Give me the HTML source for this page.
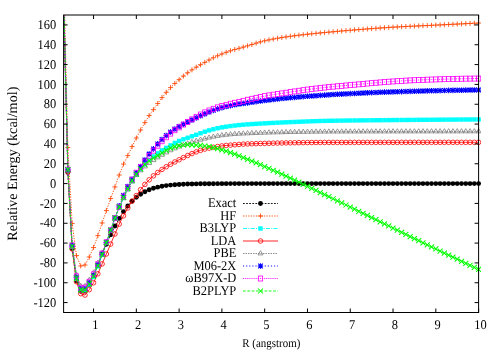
<!DOCTYPE html><html><head><meta charset="utf-8"><style>html,body{margin:0;padding:0;background:#fff}svg{display:block}svg text{text-rendering:geometricPrecision}#tx{opacity:0.999}text{font-family:"Liberation Serif",serif;fill:#000}</style></head><body>
<svg width="500" height="350" viewBox="0 0 500 350">
<rect width="500" height="350" fill="#fff"/>
<defs><clipPath id="c"><rect x="63.1" y="14.5" width="418.0" height="298.5"/></clipPath><clipPath id="cl"><rect x="63.6" y="15.0" width="415.0" height="297.5"/></clipPath></defs>
<polyline clip-path="url(#cl)" points="63.60,-1.87 67.88,172.39 72.16,248.46 76.44,280.69 80.71,291.29 84.99,290.95 89.27,284.65 93.55,275.49 97.83,265.17 102.11,254.57 106.38,244.31 110.66,234.74 114.94,226.05 119.22,218.36 123.50,211.67 127.78,205.99 132.05,201.25 136.33,197.37 140.61,194.24 144.89,191.75 149.17,189.81 153.45,188.30 157.72,187.15 162.00,186.26 166.28,185.62 170.56,185.11 174.84,184.72 179.12,184.44 183.39,184.22 187.67,184.07 191.95,183.97 196.23,183.88 200.51,183.80 204.79,183.75 209.06,183.71 213.34,183.68 217.62,183.66 221.90,183.64 226.18,183.63 230.46,183.62 234.73,183.61 239.01,183.61 243.29,183.61 247.57,183.60 251.85,183.60 256.13,183.60 260.40,183.59 264.68,183.59 268.96,183.59 273.24,183.59 277.52,183.59 281.80,183.59 286.07,183.59 290.35,183.59 294.63,183.59 298.91,183.59 303.19,183.59 307.47,183.59 311.74,183.59 316.02,183.59 320.30,183.59 324.58,183.59 328.86,183.59 333.14,183.59 337.41,183.59 341.69,183.59 345.97,183.59 350.25,183.59 354.53,183.59 358.81,183.59 363.08,183.59 367.36,183.59 371.64,183.58 375.92,183.58 380.20,183.58 384.48,183.58 388.75,183.58 393.03,183.58 397.31,183.58 401.59,183.58 405.87,183.58 410.15,183.58 414.42,183.58 418.70,183.58 422.98,183.58 427.26,183.58 431.54,183.58 435.82,183.58 440.09,183.58 444.37,183.58 448.65,183.58 452.93,183.58 457.21,183.58 461.49,183.58 465.76,183.58 470.04,183.58 474.32,183.58 478.60,183.58" fill="none" stroke="#000000" stroke-width="0.9" stroke-dasharray="1.8,1.3"/>
<g clip-path="url(#c)"><circle cx="67.88" cy="172.39" r="2.45" fill="#000000"/><circle cx="72.16" cy="248.46" r="2.45" fill="#000000"/><circle cx="76.44" cy="280.69" r="2.45" fill="#000000"/><circle cx="80.71" cy="291.29" r="2.45" fill="#000000"/><circle cx="84.99" cy="290.95" r="2.45" fill="#000000"/><circle cx="89.27" cy="284.65" r="2.45" fill="#000000"/><circle cx="93.55" cy="275.49" r="2.45" fill="#000000"/><circle cx="97.83" cy="265.17" r="2.45" fill="#000000"/><circle cx="102.11" cy="254.57" r="2.45" fill="#000000"/><circle cx="106.38" cy="244.31" r="2.45" fill="#000000"/><circle cx="110.66" cy="234.74" r="2.45" fill="#000000"/><circle cx="114.94" cy="226.05" r="2.45" fill="#000000"/><circle cx="119.22" cy="218.36" r="2.45" fill="#000000"/><circle cx="123.50" cy="211.67" r="2.45" fill="#000000"/><circle cx="127.78" cy="205.99" r="2.45" fill="#000000"/><circle cx="132.05" cy="201.25" r="2.45" fill="#000000"/><circle cx="136.33" cy="197.37" r="2.45" fill="#000000"/><circle cx="140.61" cy="194.24" r="2.45" fill="#000000"/><circle cx="144.89" cy="191.75" r="2.45" fill="#000000"/><circle cx="149.17" cy="189.81" r="2.45" fill="#000000"/><circle cx="153.45" cy="188.30" r="2.45" fill="#000000"/><circle cx="157.72" cy="187.15" r="2.45" fill="#000000"/><circle cx="162.00" cy="186.26" r="2.45" fill="#000000"/><circle cx="166.28" cy="185.62" r="2.45" fill="#000000"/><circle cx="170.56" cy="185.11" r="2.45" fill="#000000"/><circle cx="174.84" cy="184.72" r="2.45" fill="#000000"/><circle cx="179.12" cy="184.44" r="2.45" fill="#000000"/><circle cx="183.39" cy="184.22" r="2.45" fill="#000000"/><circle cx="187.67" cy="184.07" r="2.45" fill="#000000"/><circle cx="191.95" cy="183.97" r="2.45" fill="#000000"/><circle cx="196.23" cy="183.88" r="2.45" fill="#000000"/><circle cx="200.51" cy="183.80" r="2.45" fill="#000000"/><circle cx="204.79" cy="183.75" r="2.45" fill="#000000"/><circle cx="209.06" cy="183.71" r="2.45" fill="#000000"/><circle cx="213.34" cy="183.68" r="2.45" fill="#000000"/><circle cx="217.62" cy="183.66" r="2.45" fill="#000000"/><circle cx="221.90" cy="183.64" r="2.45" fill="#000000"/><circle cx="226.18" cy="183.63" r="2.45" fill="#000000"/><circle cx="230.46" cy="183.62" r="2.45" fill="#000000"/><circle cx="234.73" cy="183.61" r="2.45" fill="#000000"/><circle cx="239.01" cy="183.61" r="2.45" fill="#000000"/><circle cx="243.29" cy="183.61" r="2.45" fill="#000000"/><circle cx="247.57" cy="183.60" r="2.45" fill="#000000"/><circle cx="251.85" cy="183.60" r="2.45" fill="#000000"/><circle cx="256.13" cy="183.60" r="2.45" fill="#000000"/><circle cx="260.40" cy="183.59" r="2.45" fill="#000000"/><circle cx="264.68" cy="183.59" r="2.45" fill="#000000"/><circle cx="268.96" cy="183.59" r="2.45" fill="#000000"/><circle cx="273.24" cy="183.59" r="2.45" fill="#000000"/><circle cx="277.52" cy="183.59" r="2.45" fill="#000000"/><circle cx="281.80" cy="183.59" r="2.45" fill="#000000"/><circle cx="286.07" cy="183.59" r="2.45" fill="#000000"/><circle cx="290.35" cy="183.59" r="2.45" fill="#000000"/><circle cx="294.63" cy="183.59" r="2.45" fill="#000000"/><circle cx="298.91" cy="183.59" r="2.45" fill="#000000"/><circle cx="303.19" cy="183.59" r="2.45" fill="#000000"/><circle cx="307.47" cy="183.59" r="2.45" fill="#000000"/><circle cx="311.74" cy="183.59" r="2.45" fill="#000000"/><circle cx="316.02" cy="183.59" r="2.45" fill="#000000"/><circle cx="320.30" cy="183.59" r="2.45" fill="#000000"/><circle cx="324.58" cy="183.59" r="2.45" fill="#000000"/><circle cx="328.86" cy="183.59" r="2.45" fill="#000000"/><circle cx="333.14" cy="183.59" r="2.45" fill="#000000"/><circle cx="337.41" cy="183.59" r="2.45" fill="#000000"/><circle cx="341.69" cy="183.59" r="2.45" fill="#000000"/><circle cx="345.97" cy="183.59" r="2.45" fill="#000000"/><circle cx="350.25" cy="183.59" r="2.45" fill="#000000"/><circle cx="354.53" cy="183.59" r="2.45" fill="#000000"/><circle cx="358.81" cy="183.59" r="2.45" fill="#000000"/><circle cx="363.08" cy="183.59" r="2.45" fill="#000000"/><circle cx="367.36" cy="183.59" r="2.45" fill="#000000"/><circle cx="371.64" cy="183.58" r="2.45" fill="#000000"/><circle cx="375.92" cy="183.58" r="2.45" fill="#000000"/><circle cx="380.20" cy="183.58" r="2.45" fill="#000000"/><circle cx="384.48" cy="183.58" r="2.45" fill="#000000"/><circle cx="388.75" cy="183.58" r="2.45" fill="#000000"/><circle cx="393.03" cy="183.58" r="2.45" fill="#000000"/><circle cx="397.31" cy="183.58" r="2.45" fill="#000000"/><circle cx="401.59" cy="183.58" r="2.45" fill="#000000"/><circle cx="405.87" cy="183.58" r="2.45" fill="#000000"/><circle cx="410.15" cy="183.58" r="2.45" fill="#000000"/><circle cx="414.42" cy="183.58" r="2.45" fill="#000000"/><circle cx="418.70" cy="183.58" r="2.45" fill="#000000"/><circle cx="422.98" cy="183.58" r="2.45" fill="#000000"/><circle cx="427.26" cy="183.58" r="2.45" fill="#000000"/><circle cx="431.54" cy="183.58" r="2.45" fill="#000000"/><circle cx="435.82" cy="183.58" r="2.45" fill="#000000"/><circle cx="440.09" cy="183.58" r="2.45" fill="#000000"/><circle cx="444.37" cy="183.58" r="2.45" fill="#000000"/><circle cx="448.65" cy="183.58" r="2.45" fill="#000000"/><circle cx="452.93" cy="183.58" r="2.45" fill="#000000"/><circle cx="457.21" cy="183.58" r="2.45" fill="#000000"/><circle cx="461.49" cy="183.58" r="2.45" fill="#000000"/><circle cx="465.76" cy="183.58" r="2.45" fill="#000000"/><circle cx="470.04" cy="183.58" r="2.45" fill="#000000"/><circle cx="474.32" cy="183.58" r="2.45" fill="#000000"/><circle cx="478.60" cy="183.58" r="2.45" fill="#000000"/></g>
<path d="M243 203.5H278" stroke="#000000" stroke-width="0.9" fill="none" stroke-dasharray="1.8,1.3"/>
<circle cx="260.50" cy="203.50" r="2.45" fill="#000000"/>
<polyline clip-path="url(#cl)" points="63.60,-29.62 67.88,147.59 72.16,223.55 76.44,255.58 80.71,265.99 84.99,265.00 89.27,256.97 93.55,247.55 97.83,235.65 102.11,222.95 106.38,210.56 110.66,198.56 114.94,186.96 119.22,175.06 123.50,164.05 127.78,155.62 132.05,146.59 136.33,137.97 140.61,130.03 144.89,122.60 149.17,115.56 153.45,109.61 157.72,103.48 162.00,97.61 166.28,92.34 170.56,87.59 174.84,83.44 179.12,79.66 183.39,76.09 187.67,72.81 191.95,69.86 196.23,67.16 200.51,64.72 204.79,62.40 209.06,60.00 213.34,57.74 217.62,55.77 221.90,53.97 226.18,52.30 230.46,50.80 234.73,49.52 239.01,48.32 243.29,47.08 247.57,45.84 251.85,44.53 256.13,43.17 260.40,41.88 264.68,40.78 268.96,39.86 273.24,39.03 277.52,38.27 281.80,37.57 286.07,36.92 290.35,36.31 294.63,35.74 298.91,35.21 303.19,34.72 307.47,34.24 311.74,33.79 316.02,33.36 320.30,32.95 324.58,32.55 328.86,32.16 333.14,31.76 337.41,31.37 341.69,30.99 345.97,30.62 350.25,30.27 354.53,29.93 358.81,29.59 363.08,29.26 367.36,28.93 371.64,28.62 375.92,28.31 380.20,28.01 384.48,27.73 388.75,27.45 393.03,27.20 397.31,26.96 401.59,26.73 405.87,26.51 410.15,26.31 414.42,26.11 418.70,25.91 422.98,25.71 427.26,25.52 431.54,25.32 435.82,25.11 440.09,24.91 444.37,24.70 448.65,24.49 452.93,24.28 457.21,24.07 461.49,23.87 465.76,23.66 470.04,23.45 474.32,23.24 478.60,23.03" fill="none" stroke="#ff4500" stroke-width="0.9" stroke-dasharray="1.3,1.3"/>
<g clip-path="url(#c)"><path d="M65.38 147.59h5M67.88 145.09v5" stroke="#ff4500" stroke-width="0.85" fill="none"/><path d="M69.66 223.55h5M72.16 221.05v5" stroke="#ff4500" stroke-width="0.85" fill="none"/><path d="M73.94 255.58h5M76.44 253.08v5" stroke="#ff4500" stroke-width="0.85" fill="none"/><path d="M78.21 265.99h5M80.71 263.49v5" stroke="#ff4500" stroke-width="0.85" fill="none"/><path d="M82.49 265.00h5M84.99 262.50v5" stroke="#ff4500" stroke-width="0.85" fill="none"/><path d="M86.77 256.97h5M89.27 254.47v5" stroke="#ff4500" stroke-width="0.85" fill="none"/><path d="M91.05 247.55h5M93.55 245.05v5" stroke="#ff4500" stroke-width="0.85" fill="none"/><path d="M95.33 235.65h5M97.83 233.15v5" stroke="#ff4500" stroke-width="0.85" fill="none"/><path d="M99.61 222.95h5M102.11 220.45v5" stroke="#ff4500" stroke-width="0.85" fill="none"/><path d="M103.88 210.56h5M106.38 208.06v5" stroke="#ff4500" stroke-width="0.85" fill="none"/><path d="M108.16 198.56h5M110.66 196.06v5" stroke="#ff4500" stroke-width="0.85" fill="none"/><path d="M112.44 186.96h5M114.94 184.46v5" stroke="#ff4500" stroke-width="0.85" fill="none"/><path d="M116.72 175.06h5M119.22 172.56v5" stroke="#ff4500" stroke-width="0.85" fill="none"/><path d="M121.00 164.05h5M123.50 161.55v5" stroke="#ff4500" stroke-width="0.85" fill="none"/><path d="M125.28 155.62h5M127.78 153.12v5" stroke="#ff4500" stroke-width="0.85" fill="none"/><path d="M129.55 146.59h5M132.05 144.09v5" stroke="#ff4500" stroke-width="0.85" fill="none"/><path d="M133.83 137.97h5M136.33 135.47v5" stroke="#ff4500" stroke-width="0.85" fill="none"/><path d="M138.11 130.03h5M140.61 127.53v5" stroke="#ff4500" stroke-width="0.85" fill="none"/><path d="M142.39 122.60h5M144.89 120.10v5" stroke="#ff4500" stroke-width="0.85" fill="none"/><path d="M146.67 115.56h5M149.17 113.06v5" stroke="#ff4500" stroke-width="0.85" fill="none"/><path d="M150.95 109.61h5M153.45 107.11v5" stroke="#ff4500" stroke-width="0.85" fill="none"/><path d="M155.22 103.48h5M157.72 100.98v5" stroke="#ff4500" stroke-width="0.85" fill="none"/><path d="M159.50 97.61h5M162.00 95.11v5" stroke="#ff4500" stroke-width="0.85" fill="none"/><path d="M163.78 92.34h5M166.28 89.84v5" stroke="#ff4500" stroke-width="0.85" fill="none"/><path d="M168.06 87.59h5M170.56 85.09v5" stroke="#ff4500" stroke-width="0.85" fill="none"/><path d="M172.34 83.44h5M174.84 80.94v5" stroke="#ff4500" stroke-width="0.85" fill="none"/><path d="M176.62 79.66h5M179.12 77.16v5" stroke="#ff4500" stroke-width="0.85" fill="none"/><path d="M180.89 76.09h5M183.39 73.59v5" stroke="#ff4500" stroke-width="0.85" fill="none"/><path d="M185.17 72.81h5M187.67 70.31v5" stroke="#ff4500" stroke-width="0.85" fill="none"/><path d="M189.45 69.86h5M191.95 67.36v5" stroke="#ff4500" stroke-width="0.85" fill="none"/><path d="M193.73 67.16h5M196.23 64.66v5" stroke="#ff4500" stroke-width="0.85" fill="none"/><path d="M198.01 64.72h5M200.51 62.22v5" stroke="#ff4500" stroke-width="0.85" fill="none"/><path d="M202.29 62.40h5M204.79 59.90v5" stroke="#ff4500" stroke-width="0.85" fill="none"/><path d="M206.56 60.00h5M209.06 57.50v5" stroke="#ff4500" stroke-width="0.85" fill="none"/><path d="M210.84 57.74h5M213.34 55.24v5" stroke="#ff4500" stroke-width="0.85" fill="none"/><path d="M215.12 55.77h5M217.62 53.27v5" stroke="#ff4500" stroke-width="0.85" fill="none"/><path d="M219.40 53.97h5M221.90 51.47v5" stroke="#ff4500" stroke-width="0.85" fill="none"/><path d="M223.68 52.30h5M226.18 49.80v5" stroke="#ff4500" stroke-width="0.85" fill="none"/><path d="M227.96 50.80h5M230.46 48.30v5" stroke="#ff4500" stroke-width="0.85" fill="none"/><path d="M232.23 49.52h5M234.73 47.02v5" stroke="#ff4500" stroke-width="0.85" fill="none"/><path d="M236.51 48.32h5M239.01 45.82v5" stroke="#ff4500" stroke-width="0.85" fill="none"/><path d="M240.79 47.08h5M243.29 44.58v5" stroke="#ff4500" stroke-width="0.85" fill="none"/><path d="M245.07 45.84h5M247.57 43.34v5" stroke="#ff4500" stroke-width="0.85" fill="none"/><path d="M249.35 44.53h5M251.85 42.03v5" stroke="#ff4500" stroke-width="0.85" fill="none"/><path d="M253.63 43.17h5M256.13 40.67v5" stroke="#ff4500" stroke-width="0.85" fill="none"/><path d="M257.90 41.88h5M260.40 39.38v5" stroke="#ff4500" stroke-width="0.85" fill="none"/><path d="M262.18 40.78h5M264.68 38.28v5" stroke="#ff4500" stroke-width="0.85" fill="none"/><path d="M266.46 39.86h5M268.96 37.36v5" stroke="#ff4500" stroke-width="0.85" fill="none"/><path d="M270.74 39.03h5M273.24 36.53v5" stroke="#ff4500" stroke-width="0.85" fill="none"/><path d="M275.02 38.27h5M277.52 35.77v5" stroke="#ff4500" stroke-width="0.85" fill="none"/><path d="M279.30 37.57h5M281.80 35.07v5" stroke="#ff4500" stroke-width="0.85" fill="none"/><path d="M283.57 36.92h5M286.07 34.42v5" stroke="#ff4500" stroke-width="0.85" fill="none"/><path d="M287.85 36.31h5M290.35 33.81v5" stroke="#ff4500" stroke-width="0.85" fill="none"/><path d="M292.13 35.74h5M294.63 33.24v5" stroke="#ff4500" stroke-width="0.85" fill="none"/><path d="M296.41 35.21h5M298.91 32.71v5" stroke="#ff4500" stroke-width="0.85" fill="none"/><path d="M300.69 34.72h5M303.19 32.22v5" stroke="#ff4500" stroke-width="0.85" fill="none"/><path d="M304.97 34.24h5M307.47 31.74v5" stroke="#ff4500" stroke-width="0.85" fill="none"/><path d="M309.24 33.79h5M311.74 31.29v5" stroke="#ff4500" stroke-width="0.85" fill="none"/><path d="M313.52 33.36h5M316.02 30.86v5" stroke="#ff4500" stroke-width="0.85" fill="none"/><path d="M317.80 32.95h5M320.30 30.45v5" stroke="#ff4500" stroke-width="0.85" fill="none"/><path d="M322.08 32.55h5M324.58 30.05v5" stroke="#ff4500" stroke-width="0.85" fill="none"/><path d="M326.36 32.16h5M328.86 29.66v5" stroke="#ff4500" stroke-width="0.85" fill="none"/><path d="M330.64 31.76h5M333.14 29.26v5" stroke="#ff4500" stroke-width="0.85" fill="none"/><path d="M334.91 31.37h5M337.41 28.87v5" stroke="#ff4500" stroke-width="0.85" fill="none"/><path d="M339.19 30.99h5M341.69 28.49v5" stroke="#ff4500" stroke-width="0.85" fill="none"/><path d="M343.47 30.62h5M345.97 28.12v5" stroke="#ff4500" stroke-width="0.85" fill="none"/><path d="M347.75 30.27h5M350.25 27.77v5" stroke="#ff4500" stroke-width="0.85" fill="none"/><path d="M352.03 29.93h5M354.53 27.43v5" stroke="#ff4500" stroke-width="0.85" fill="none"/><path d="M356.31 29.59h5M358.81 27.09v5" stroke="#ff4500" stroke-width="0.85" fill="none"/><path d="M360.58 29.26h5M363.08 26.76v5" stroke="#ff4500" stroke-width="0.85" fill="none"/><path d="M364.86 28.93h5M367.36 26.43v5" stroke="#ff4500" stroke-width="0.85" fill="none"/><path d="M369.14 28.62h5M371.64 26.12v5" stroke="#ff4500" stroke-width="0.85" fill="none"/><path d="M373.42 28.31h5M375.92 25.81v5" stroke="#ff4500" stroke-width="0.85" fill="none"/><path d="M377.70 28.01h5M380.20 25.51v5" stroke="#ff4500" stroke-width="0.85" fill="none"/><path d="M381.98 27.73h5M384.48 25.23v5" stroke="#ff4500" stroke-width="0.85" fill="none"/><path d="M386.25 27.45h5M388.75 24.95v5" stroke="#ff4500" stroke-width="0.85" fill="none"/><path d="M390.53 27.20h5M393.03 24.70v5" stroke="#ff4500" stroke-width="0.85" fill="none"/><path d="M394.81 26.96h5M397.31 24.46v5" stroke="#ff4500" stroke-width="0.85" fill="none"/><path d="M399.09 26.73h5M401.59 24.23v5" stroke="#ff4500" stroke-width="0.85" fill="none"/><path d="M403.37 26.51h5M405.87 24.01v5" stroke="#ff4500" stroke-width="0.85" fill="none"/><path d="M407.65 26.31h5M410.15 23.81v5" stroke="#ff4500" stroke-width="0.85" fill="none"/><path d="M411.92 26.11h5M414.42 23.61v5" stroke="#ff4500" stroke-width="0.85" fill="none"/><path d="M416.20 25.91h5M418.70 23.41v5" stroke="#ff4500" stroke-width="0.85" fill="none"/><path d="M420.48 25.71h5M422.98 23.21v5" stroke="#ff4500" stroke-width="0.85" fill="none"/><path d="M424.76 25.52h5M427.26 23.02v5" stroke="#ff4500" stroke-width="0.85" fill="none"/><path d="M429.04 25.32h5M431.54 22.82v5" stroke="#ff4500" stroke-width="0.85" fill="none"/><path d="M433.32 25.11h5M435.82 22.61v5" stroke="#ff4500" stroke-width="0.85" fill="none"/><path d="M437.59 24.91h5M440.09 22.41v5" stroke="#ff4500" stroke-width="0.85" fill="none"/><path d="M441.87 24.70h5M444.37 22.20v5" stroke="#ff4500" stroke-width="0.85" fill="none"/><path d="M446.15 24.49h5M448.65 21.99v5" stroke="#ff4500" stroke-width="0.85" fill="none"/><path d="M450.43 24.28h5M452.93 21.78v5" stroke="#ff4500" stroke-width="0.85" fill="none"/><path d="M454.71 24.07h5M457.21 21.57v5" stroke="#ff4500" stroke-width="0.85" fill="none"/><path d="M458.99 23.87h5M461.49 21.37v5" stroke="#ff4500" stroke-width="0.85" fill="none"/><path d="M463.26 23.66h5M465.76 21.16v5" stroke="#ff4500" stroke-width="0.85" fill="none"/><path d="M467.54 23.45h5M470.04 20.95v5" stroke="#ff4500" stroke-width="0.85" fill="none"/><path d="M471.82 23.24h5M474.32 20.74v5" stroke="#ff4500" stroke-width="0.85" fill="none"/><path d="M476.10 23.03h5M478.60 20.53v5" stroke="#ff4500" stroke-width="0.85" fill="none"/></g>
<path d="M243 216.0H278" stroke="#ff4500" stroke-width="0.9" fill="none" stroke-dasharray="1.3,1.3"/>
<path d="M258.00 216.00h5M260.50 213.50v5" stroke="#ff4500" stroke-width="0.85" fill="none"/>
<polyline clip-path="url(#cl)" points="63.60,-4.83 67.88,169.70 72.16,246.65 76.44,278.98 80.71,290.39 84.99,290.39 89.27,284.44 93.55,277.00 97.83,266.29 102.11,254.88 106.38,242.88 110.66,230.19 114.94,217.99 119.22,207.88 123.50,197.96 127.78,189.04 132.05,181.10 136.33,174.66 140.61,169.20 144.89,164.25 149.17,159.98 153.45,156.51 157.72,153.34 162.00,150.36 166.28,147.88 170.56,145.40 174.84,142.93 179.12,140.94 183.39,139.29 187.67,137.77 191.95,136.27 196.23,134.79 200.51,133.22 204.79,131.72 209.06,130.40 213.34,129.24 217.62,128.22 221.90,127.36 226.18,126.66 230.46,126.07 234.73,125.53 239.01,125.08 243.29,124.70 247.57,124.38 251.85,124.10 256.13,123.83 260.40,123.58 264.68,123.33 268.96,123.10 273.24,122.89 277.52,122.68 281.80,122.48 286.07,122.30 290.35,122.12 294.63,121.94 298.91,121.76 303.19,121.59 307.47,121.42 311.74,121.27 316.02,121.13 320.30,121.00 324.58,120.90 328.86,120.81 333.14,120.74 337.41,120.67 341.69,120.61 345.97,120.55 350.25,120.49 354.53,120.44 358.81,120.40 363.08,120.35 367.36,120.31 371.64,120.27 375.92,120.23 380.20,120.19 384.48,120.15 388.75,120.12 393.03,120.08 397.31,120.04 401.59,120.00 405.87,119.96 410.15,119.93 414.42,119.89 418.70,119.85 422.98,119.82 427.26,119.78 431.54,119.75 435.82,119.71 440.09,119.68 444.37,119.65 448.65,119.62 452.93,119.59 457.21,119.56 461.49,119.53 465.76,119.50 470.04,119.47 474.32,119.45 478.60,119.42" fill="none" stroke="#00ffff" stroke-width="0.9" stroke-dasharray="4.2,1.2,1,1.2"/>
<g clip-path="url(#c)"><rect x="65.68" y="167.50" width="4.4" height="4.4" fill="#00ffff"/><rect x="69.96" y="244.45" width="4.4" height="4.4" fill="#00ffff"/><rect x="74.24" y="276.78" width="4.4" height="4.4" fill="#00ffff"/><rect x="78.51" y="288.19" width="4.4" height="4.4" fill="#00ffff"/><rect x="82.79" y="288.19" width="4.4" height="4.4" fill="#00ffff"/><rect x="87.07" y="282.24" width="4.4" height="4.4" fill="#00ffff"/><rect x="91.35" y="274.80" width="4.4" height="4.4" fill="#00ffff"/><rect x="95.63" y="264.09" width="4.4" height="4.4" fill="#00ffff"/><rect x="99.91" y="252.68" width="4.4" height="4.4" fill="#00ffff"/><rect x="104.18" y="240.69" width="4.4" height="4.4" fill="#00ffff"/><rect x="108.46" y="227.99" width="4.4" height="4.4" fill="#00ffff"/><rect x="112.74" y="215.79" width="4.4" height="4.4" fill="#00ffff"/><rect x="117.02" y="205.68" width="4.4" height="4.4" fill="#00ffff"/><rect x="121.30" y="195.76" width="4.4" height="4.4" fill="#00ffff"/><rect x="125.58" y="186.84" width="4.4" height="4.4" fill="#00ffff"/><rect x="129.85" y="178.90" width="4.4" height="4.4" fill="#00ffff"/><rect x="134.13" y="172.46" width="4.4" height="4.4" fill="#00ffff"/><rect x="138.41" y="167.00" width="4.4" height="4.4" fill="#00ffff"/><rect x="142.69" y="162.05" width="4.4" height="4.4" fill="#00ffff"/><rect x="146.97" y="157.78" width="4.4" height="4.4" fill="#00ffff"/><rect x="151.25" y="154.31" width="4.4" height="4.4" fill="#00ffff"/><rect x="155.52" y="151.14" width="4.4" height="4.4" fill="#00ffff"/><rect x="159.80" y="148.16" width="4.4" height="4.4" fill="#00ffff"/><rect x="164.08" y="145.68" width="4.4" height="4.4" fill="#00ffff"/><rect x="168.36" y="143.20" width="4.4" height="4.4" fill="#00ffff"/><rect x="172.64" y="140.73" width="4.4" height="4.4" fill="#00ffff"/><rect x="176.92" y="138.74" width="4.4" height="4.4" fill="#00ffff"/><rect x="181.19" y="137.09" width="4.4" height="4.4" fill="#00ffff"/><rect x="185.47" y="135.57" width="4.4" height="4.4" fill="#00ffff"/><rect x="189.75" y="134.07" width="4.4" height="4.4" fill="#00ffff"/><rect x="194.03" y="132.59" width="4.4" height="4.4" fill="#00ffff"/><rect x="198.31" y="131.02" width="4.4" height="4.4" fill="#00ffff"/><rect x="202.59" y="129.52" width="4.4" height="4.4" fill="#00ffff"/><rect x="206.86" y="128.20" width="4.4" height="4.4" fill="#00ffff"/><rect x="211.14" y="127.04" width="4.4" height="4.4" fill="#00ffff"/><rect x="215.42" y="126.02" width="4.4" height="4.4" fill="#00ffff"/><rect x="219.70" y="125.16" width="4.4" height="4.4" fill="#00ffff"/><rect x="223.98" y="124.46" width="4.4" height="4.4" fill="#00ffff"/><rect x="228.26" y="123.87" width="4.4" height="4.4" fill="#00ffff"/><rect x="232.53" y="123.33" width="4.4" height="4.4" fill="#00ffff"/><rect x="236.81" y="122.88" width="4.4" height="4.4" fill="#00ffff"/><rect x="241.09" y="122.50" width="4.4" height="4.4" fill="#00ffff"/><rect x="245.37" y="122.18" width="4.4" height="4.4" fill="#00ffff"/><rect x="249.65" y="121.90" width="4.4" height="4.4" fill="#00ffff"/><rect x="253.93" y="121.63" width="4.4" height="4.4" fill="#00ffff"/><rect x="258.20" y="121.38" width="4.4" height="4.4" fill="#00ffff"/><rect x="262.48" y="121.13" width="4.4" height="4.4" fill="#00ffff"/><rect x="266.76" y="120.90" width="4.4" height="4.4" fill="#00ffff"/><rect x="271.04" y="120.69" width="4.4" height="4.4" fill="#00ffff"/><rect x="275.32" y="120.48" width="4.4" height="4.4" fill="#00ffff"/><rect x="279.60" y="120.28" width="4.4" height="4.4" fill="#00ffff"/><rect x="283.87" y="120.10" width="4.4" height="4.4" fill="#00ffff"/><rect x="288.15" y="119.92" width="4.4" height="4.4" fill="#00ffff"/><rect x="292.43" y="119.74" width="4.4" height="4.4" fill="#00ffff"/><rect x="296.71" y="119.56" width="4.4" height="4.4" fill="#00ffff"/><rect x="300.99" y="119.39" width="4.4" height="4.4" fill="#00ffff"/><rect x="305.27" y="119.22" width="4.4" height="4.4" fill="#00ffff"/><rect x="309.54" y="119.07" width="4.4" height="4.4" fill="#00ffff"/><rect x="313.82" y="118.93" width="4.4" height="4.4" fill="#00ffff"/><rect x="318.10" y="118.80" width="4.4" height="4.4" fill="#00ffff"/><rect x="322.38" y="118.70" width="4.4" height="4.4" fill="#00ffff"/><rect x="326.66" y="118.61" width="4.4" height="4.4" fill="#00ffff"/><rect x="330.94" y="118.54" width="4.4" height="4.4" fill="#00ffff"/><rect x="335.21" y="118.47" width="4.4" height="4.4" fill="#00ffff"/><rect x="339.49" y="118.41" width="4.4" height="4.4" fill="#00ffff"/><rect x="343.77" y="118.35" width="4.4" height="4.4" fill="#00ffff"/><rect x="348.05" y="118.29" width="4.4" height="4.4" fill="#00ffff"/><rect x="352.33" y="118.24" width="4.4" height="4.4" fill="#00ffff"/><rect x="356.61" y="118.20" width="4.4" height="4.4" fill="#00ffff"/><rect x="360.88" y="118.15" width="4.4" height="4.4" fill="#00ffff"/><rect x="365.16" y="118.11" width="4.4" height="4.4" fill="#00ffff"/><rect x="369.44" y="118.07" width="4.4" height="4.4" fill="#00ffff"/><rect x="373.72" y="118.03" width="4.4" height="4.4" fill="#00ffff"/><rect x="378.00" y="117.99" width="4.4" height="4.4" fill="#00ffff"/><rect x="382.28" y="117.95" width="4.4" height="4.4" fill="#00ffff"/><rect x="386.55" y="117.92" width="4.4" height="4.4" fill="#00ffff"/><rect x="390.83" y="117.88" width="4.4" height="4.4" fill="#00ffff"/><rect x="395.11" y="117.84" width="4.4" height="4.4" fill="#00ffff"/><rect x="399.39" y="117.80" width="4.4" height="4.4" fill="#00ffff"/><rect x="403.67" y="117.76" width="4.4" height="4.4" fill="#00ffff"/><rect x="407.95" y="117.73" width="4.4" height="4.4" fill="#00ffff"/><rect x="412.22" y="117.69" width="4.4" height="4.4" fill="#00ffff"/><rect x="416.50" y="117.65" width="4.4" height="4.4" fill="#00ffff"/><rect x="420.78" y="117.62" width="4.4" height="4.4" fill="#00ffff"/><rect x="425.06" y="117.58" width="4.4" height="4.4" fill="#00ffff"/><rect x="429.34" y="117.55" width="4.4" height="4.4" fill="#00ffff"/><rect x="433.62" y="117.51" width="4.4" height="4.4" fill="#00ffff"/><rect x="437.89" y="117.48" width="4.4" height="4.4" fill="#00ffff"/><rect x="442.17" y="117.45" width="4.4" height="4.4" fill="#00ffff"/><rect x="446.45" y="117.42" width="4.4" height="4.4" fill="#00ffff"/><rect x="450.73" y="117.39" width="4.4" height="4.4" fill="#00ffff"/><rect x="455.01" y="117.36" width="4.4" height="4.4" fill="#00ffff"/><rect x="459.29" y="117.33" width="4.4" height="4.4" fill="#00ffff"/><rect x="463.56" y="117.30" width="4.4" height="4.4" fill="#00ffff"/><rect x="467.84" y="117.27" width="4.4" height="4.4" fill="#00ffff"/><rect x="472.12" y="117.25" width="4.4" height="4.4" fill="#00ffff"/><rect x="476.40" y="117.22" width="4.4" height="4.4" fill="#00ffff"/></g>
<path d="M243 228.5H278" stroke="#00ffff" stroke-width="0.9" fill="none" stroke-dasharray="4.2,1.2,1,1.2"/>
<rect x="258.30" y="226.30" width="4.4" height="4.4" fill="#00ffff"/>
<polyline clip-path="url(#cl)" points="63.60,0.12 67.88,171.68 72.16,249.03 76.44,281.76 80.71,293.66 84.99,295.05 89.27,289.69 93.55,282.75 97.83,273.82 102.11,263.91 106.38,253.99 110.66,244.07 114.94,233.96 119.22,224.04 123.50,215.81 127.78,207.98 132.05,201.04 136.33,195.58 140.61,189.63 144.89,184.38 149.17,179.81 153.45,175.85 157.72,172.48 162.00,169.40 166.28,166.72 170.56,164.25 174.84,161.97 179.12,159.78 183.39,157.60 187.67,155.52 191.95,153.59 196.23,151.85 200.51,150.34 204.79,149.07 209.06,148.10 213.34,147.29 217.62,146.53 221.90,145.90 226.18,145.47 230.46,145.11 234.73,144.74 239.01,144.41 243.29,144.13 247.57,143.92 251.85,143.78 256.13,143.65 260.40,143.53 264.68,143.41 268.96,143.29 273.24,143.18 277.52,143.08 281.80,142.99 286.07,142.90 290.35,142.82 294.63,142.74 298.91,142.68 303.19,142.62 307.47,142.57 311.74,142.52 316.02,142.49 320.30,142.46 324.58,142.44 328.86,142.43 333.14,142.42 337.41,142.42 341.69,142.41 345.97,142.41 350.25,142.40 354.53,142.40 358.81,142.39 363.08,142.39 367.36,142.38 371.64,142.38 375.92,142.37 380.20,142.37 384.48,142.37 388.75,142.36 393.03,142.36 397.31,142.36 401.59,142.35 405.87,142.35 410.15,142.35 414.42,142.35 418.70,142.34 422.98,142.34 427.26,142.34 431.54,142.34 435.82,142.34 440.09,142.34 444.37,142.33 448.65,142.33 452.93,142.33 457.21,142.33 461.49,142.33 465.76,142.33 470.04,142.33 474.32,142.33 478.60,142.33" fill="none" stroke="#ff0000" stroke-width="0.85"/>
<g clip-path="url(#c)"><circle cx="67.88" cy="171.68" r="2.3" fill="none" stroke="#ff0000" stroke-width="0.8"/><circle cx="72.16" cy="249.03" r="2.3" fill="none" stroke="#ff0000" stroke-width="0.8"/><circle cx="76.44" cy="281.76" r="2.3" fill="none" stroke="#ff0000" stroke-width="0.8"/><circle cx="80.71" cy="293.66" r="2.3" fill="none" stroke="#ff0000" stroke-width="0.8"/><circle cx="84.99" cy="295.05" r="2.3" fill="none" stroke="#ff0000" stroke-width="0.8"/><circle cx="89.27" cy="289.69" r="2.3" fill="none" stroke="#ff0000" stroke-width="0.8"/><circle cx="93.55" cy="282.75" r="2.3" fill="none" stroke="#ff0000" stroke-width="0.8"/><circle cx="97.83" cy="273.82" r="2.3" fill="none" stroke="#ff0000" stroke-width="0.8"/><circle cx="102.11" cy="263.91" r="2.3" fill="none" stroke="#ff0000" stroke-width="0.8"/><circle cx="106.38" cy="253.99" r="2.3" fill="none" stroke="#ff0000" stroke-width="0.8"/><circle cx="110.66" cy="244.07" r="2.3" fill="none" stroke="#ff0000" stroke-width="0.8"/><circle cx="114.94" cy="233.96" r="2.3" fill="none" stroke="#ff0000" stroke-width="0.8"/><circle cx="119.22" cy="224.04" r="2.3" fill="none" stroke="#ff0000" stroke-width="0.8"/><circle cx="123.50" cy="215.81" r="2.3" fill="none" stroke="#ff0000" stroke-width="0.8"/><circle cx="127.78" cy="207.98" r="2.3" fill="none" stroke="#ff0000" stroke-width="0.8"/><circle cx="132.05" cy="201.04" r="2.3" fill="none" stroke="#ff0000" stroke-width="0.8"/><circle cx="136.33" cy="195.58" r="2.3" fill="none" stroke="#ff0000" stroke-width="0.8"/><circle cx="140.61" cy="189.63" r="2.3" fill="none" stroke="#ff0000" stroke-width="0.8"/><circle cx="144.89" cy="184.38" r="2.3" fill="none" stroke="#ff0000" stroke-width="0.8"/><circle cx="149.17" cy="179.81" r="2.3" fill="none" stroke="#ff0000" stroke-width="0.8"/><circle cx="153.45" cy="175.85" r="2.3" fill="none" stroke="#ff0000" stroke-width="0.8"/><circle cx="157.72" cy="172.48" r="2.3" fill="none" stroke="#ff0000" stroke-width="0.8"/><circle cx="162.00" cy="169.40" r="2.3" fill="none" stroke="#ff0000" stroke-width="0.8"/><circle cx="166.28" cy="166.72" r="2.3" fill="none" stroke="#ff0000" stroke-width="0.8"/><circle cx="170.56" cy="164.25" r="2.3" fill="none" stroke="#ff0000" stroke-width="0.8"/><circle cx="174.84" cy="161.97" r="2.3" fill="none" stroke="#ff0000" stroke-width="0.8"/><circle cx="179.12" cy="159.78" r="2.3" fill="none" stroke="#ff0000" stroke-width="0.8"/><circle cx="183.39" cy="157.60" r="2.3" fill="none" stroke="#ff0000" stroke-width="0.8"/><circle cx="187.67" cy="155.52" r="2.3" fill="none" stroke="#ff0000" stroke-width="0.8"/><circle cx="191.95" cy="153.59" r="2.3" fill="none" stroke="#ff0000" stroke-width="0.8"/><circle cx="196.23" cy="151.85" r="2.3" fill="none" stroke="#ff0000" stroke-width="0.8"/><circle cx="200.51" cy="150.34" r="2.3" fill="none" stroke="#ff0000" stroke-width="0.8"/><circle cx="204.79" cy="149.07" r="2.3" fill="none" stroke="#ff0000" stroke-width="0.8"/><circle cx="209.06" cy="148.10" r="2.3" fill="none" stroke="#ff0000" stroke-width="0.8"/><circle cx="213.34" cy="147.29" r="2.3" fill="none" stroke="#ff0000" stroke-width="0.8"/><circle cx="217.62" cy="146.53" r="2.3" fill="none" stroke="#ff0000" stroke-width="0.8"/><circle cx="221.90" cy="145.90" r="2.3" fill="none" stroke="#ff0000" stroke-width="0.8"/><circle cx="226.18" cy="145.47" r="2.3" fill="none" stroke="#ff0000" stroke-width="0.8"/><circle cx="230.46" cy="145.11" r="2.3" fill="none" stroke="#ff0000" stroke-width="0.8"/><circle cx="234.73" cy="144.74" r="2.3" fill="none" stroke="#ff0000" stroke-width="0.8"/><circle cx="239.01" cy="144.41" r="2.3" fill="none" stroke="#ff0000" stroke-width="0.8"/><circle cx="243.29" cy="144.13" r="2.3" fill="none" stroke="#ff0000" stroke-width="0.8"/><circle cx="247.57" cy="143.92" r="2.3" fill="none" stroke="#ff0000" stroke-width="0.8"/><circle cx="251.85" cy="143.78" r="2.3" fill="none" stroke="#ff0000" stroke-width="0.8"/><circle cx="256.13" cy="143.65" r="2.3" fill="none" stroke="#ff0000" stroke-width="0.8"/><circle cx="260.40" cy="143.53" r="2.3" fill="none" stroke="#ff0000" stroke-width="0.8"/><circle cx="264.68" cy="143.41" r="2.3" fill="none" stroke="#ff0000" stroke-width="0.8"/><circle cx="268.96" cy="143.29" r="2.3" fill="none" stroke="#ff0000" stroke-width="0.8"/><circle cx="273.24" cy="143.18" r="2.3" fill="none" stroke="#ff0000" stroke-width="0.8"/><circle cx="277.52" cy="143.08" r="2.3" fill="none" stroke="#ff0000" stroke-width="0.8"/><circle cx="281.80" cy="142.99" r="2.3" fill="none" stroke="#ff0000" stroke-width="0.8"/><circle cx="286.07" cy="142.90" r="2.3" fill="none" stroke="#ff0000" stroke-width="0.8"/><circle cx="290.35" cy="142.82" r="2.3" fill="none" stroke="#ff0000" stroke-width="0.8"/><circle cx="294.63" cy="142.74" r="2.3" fill="none" stroke="#ff0000" stroke-width="0.8"/><circle cx="298.91" cy="142.68" r="2.3" fill="none" stroke="#ff0000" stroke-width="0.8"/><circle cx="303.19" cy="142.62" r="2.3" fill="none" stroke="#ff0000" stroke-width="0.8"/><circle cx="307.47" cy="142.57" r="2.3" fill="none" stroke="#ff0000" stroke-width="0.8"/><circle cx="311.74" cy="142.52" r="2.3" fill="none" stroke="#ff0000" stroke-width="0.8"/><circle cx="316.02" cy="142.49" r="2.3" fill="none" stroke="#ff0000" stroke-width="0.8"/><circle cx="320.30" cy="142.46" r="2.3" fill="none" stroke="#ff0000" stroke-width="0.8"/><circle cx="324.58" cy="142.44" r="2.3" fill="none" stroke="#ff0000" stroke-width="0.8"/><circle cx="328.86" cy="142.43" r="2.3" fill="none" stroke="#ff0000" stroke-width="0.8"/><circle cx="333.14" cy="142.42" r="2.3" fill="none" stroke="#ff0000" stroke-width="0.8"/><circle cx="337.41" cy="142.42" r="2.3" fill="none" stroke="#ff0000" stroke-width="0.8"/><circle cx="341.69" cy="142.41" r="2.3" fill="none" stroke="#ff0000" stroke-width="0.8"/><circle cx="345.97" cy="142.41" r="2.3" fill="none" stroke="#ff0000" stroke-width="0.8"/><circle cx="350.25" cy="142.40" r="2.3" fill="none" stroke="#ff0000" stroke-width="0.8"/><circle cx="354.53" cy="142.40" r="2.3" fill="none" stroke="#ff0000" stroke-width="0.8"/><circle cx="358.81" cy="142.39" r="2.3" fill="none" stroke="#ff0000" stroke-width="0.8"/><circle cx="363.08" cy="142.39" r="2.3" fill="none" stroke="#ff0000" stroke-width="0.8"/><circle cx="367.36" cy="142.38" r="2.3" fill="none" stroke="#ff0000" stroke-width="0.8"/><circle cx="371.64" cy="142.38" r="2.3" fill="none" stroke="#ff0000" stroke-width="0.8"/><circle cx="375.92" cy="142.37" r="2.3" fill="none" stroke="#ff0000" stroke-width="0.8"/><circle cx="380.20" cy="142.37" r="2.3" fill="none" stroke="#ff0000" stroke-width="0.8"/><circle cx="384.48" cy="142.37" r="2.3" fill="none" stroke="#ff0000" stroke-width="0.8"/><circle cx="388.75" cy="142.36" r="2.3" fill="none" stroke="#ff0000" stroke-width="0.8"/><circle cx="393.03" cy="142.36" r="2.3" fill="none" stroke="#ff0000" stroke-width="0.8"/><circle cx="397.31" cy="142.36" r="2.3" fill="none" stroke="#ff0000" stroke-width="0.8"/><circle cx="401.59" cy="142.35" r="2.3" fill="none" stroke="#ff0000" stroke-width="0.8"/><circle cx="405.87" cy="142.35" r="2.3" fill="none" stroke="#ff0000" stroke-width="0.8"/><circle cx="410.15" cy="142.35" r="2.3" fill="none" stroke="#ff0000" stroke-width="0.8"/><circle cx="414.42" cy="142.35" r="2.3" fill="none" stroke="#ff0000" stroke-width="0.8"/><circle cx="418.70" cy="142.34" r="2.3" fill="none" stroke="#ff0000" stroke-width="0.8"/><circle cx="422.98" cy="142.34" r="2.3" fill="none" stroke="#ff0000" stroke-width="0.8"/><circle cx="427.26" cy="142.34" r="2.3" fill="none" stroke="#ff0000" stroke-width="0.8"/><circle cx="431.54" cy="142.34" r="2.3" fill="none" stroke="#ff0000" stroke-width="0.8"/><circle cx="435.82" cy="142.34" r="2.3" fill="none" stroke="#ff0000" stroke-width="0.8"/><circle cx="440.09" cy="142.34" r="2.3" fill="none" stroke="#ff0000" stroke-width="0.8"/><circle cx="444.37" cy="142.33" r="2.3" fill="none" stroke="#ff0000" stroke-width="0.8"/><circle cx="448.65" cy="142.33" r="2.3" fill="none" stroke="#ff0000" stroke-width="0.8"/><circle cx="452.93" cy="142.33" r="2.3" fill="none" stroke="#ff0000" stroke-width="0.8"/><circle cx="457.21" cy="142.33" r="2.3" fill="none" stroke="#ff0000" stroke-width="0.8"/><circle cx="461.49" cy="142.33" r="2.3" fill="none" stroke="#ff0000" stroke-width="0.8"/><circle cx="465.76" cy="142.33" r="2.3" fill="none" stroke="#ff0000" stroke-width="0.8"/><circle cx="470.04" cy="142.33" r="2.3" fill="none" stroke="#ff0000" stroke-width="0.8"/><circle cx="474.32" cy="142.33" r="2.3" fill="none" stroke="#ff0000" stroke-width="0.8"/><circle cx="478.60" cy="142.33" r="2.3" fill="none" stroke="#ff0000" stroke-width="0.8"/></g>
<path d="M243 241.0H278" stroke="#ff0000" stroke-width="0.85" fill="none"/>
<circle cx="260.50" cy="241.00" r="2.3" fill="none" stroke="#ff0000" stroke-width="0.8"/>
<polyline clip-path="url(#cl)" points="63.60,-4.83 67.88,169.70 72.16,244.47 76.44,274.62 80.71,286.02 84.99,286.02 89.27,280.07 93.55,272.63 97.83,263.02 102.11,252.70 106.38,241.79 110.66,230.19 114.94,217.99 119.22,207.88 123.50,198.26 127.78,189.53 132.05,181.60 136.33,175.15 140.61,170.49 144.89,166.53 149.17,163.16 153.45,160.18 157.72,157.50 162.00,154.92 166.28,152.54 170.56,150.36 174.84,148.48 179.12,146.69 183.39,144.98 187.67,143.42 191.95,142.13 196.23,140.94 200.51,139.76 204.79,138.66 209.06,137.67 213.34,136.78 217.62,135.96 221.90,135.29 226.18,134.79 230.46,134.40 234.73,134.07 239.01,133.80 243.29,133.59 247.57,133.41 251.85,133.23 256.13,133.06 260.40,132.90 264.68,132.75 268.96,132.62 273.24,132.51 277.52,132.41 281.80,132.32 286.07,132.22 290.35,132.13 294.63,132.05 298.91,131.96 303.19,131.89 307.47,131.82 311.74,131.76 316.02,131.71 320.30,131.67 324.58,131.64 328.86,131.62 333.14,131.61 337.41,131.60 341.69,131.59 345.97,131.58 350.25,131.56 354.53,131.55 358.81,131.55 363.08,131.54 367.36,131.53 371.64,131.52 375.92,131.51 380.20,131.50 384.48,131.50 388.75,131.49 393.03,131.48 397.31,131.48 401.59,131.47 405.87,131.47 410.15,131.46 414.42,131.46 418.70,131.45 422.98,131.45 427.26,131.44 431.54,131.44 435.82,131.44 440.09,131.43 444.37,131.43 448.65,131.43 452.93,131.43 457.21,131.43 461.49,131.42 465.76,131.42 470.04,131.42 474.32,131.42 478.60,131.42" fill="none" stroke="#808080" stroke-width="0.9" stroke-dasharray="1.5,1"/>
<g clip-path="url(#c)"><path d="M67.88 166.90L70.38 171.10L65.38 171.10Z" stroke="#808080" stroke-width="0.8" fill="none"/><path d="M72.16 241.67L74.66 245.87L69.66 245.87Z" stroke="#808080" stroke-width="0.8" fill="none"/><path d="M76.44 271.82L78.94 276.02L73.94 276.02Z" stroke="#808080" stroke-width="0.8" fill="none"/><path d="M80.71 283.22L83.21 287.42L78.21 287.42Z" stroke="#808080" stroke-width="0.8" fill="none"/><path d="M84.99 283.22L87.49 287.42L82.49 287.42Z" stroke="#808080" stroke-width="0.8" fill="none"/><path d="M89.27 277.27L91.77 281.47L86.77 281.47Z" stroke="#808080" stroke-width="0.8" fill="none"/><path d="M93.55 269.83L96.05 274.03L91.05 274.03Z" stroke="#808080" stroke-width="0.8" fill="none"/><path d="M97.83 260.22L100.33 264.42L95.33 264.42Z" stroke="#808080" stroke-width="0.8" fill="none"/><path d="M102.11 249.90L104.61 254.10L99.61 254.10Z" stroke="#808080" stroke-width="0.8" fill="none"/><path d="M106.38 238.99L108.88 243.19L103.88 243.19Z" stroke="#808080" stroke-width="0.8" fill="none"/><path d="M110.66 227.39L113.16 231.59L108.16 231.59Z" stroke="#808080" stroke-width="0.8" fill="none"/><path d="M114.94 215.19L117.44 219.39L112.44 219.39Z" stroke="#808080" stroke-width="0.8" fill="none"/><path d="M119.22 205.08L121.72 209.28L116.72 209.28Z" stroke="#808080" stroke-width="0.8" fill="none"/><path d="M123.50 195.46L126.00 199.66L121.00 199.66Z" stroke="#808080" stroke-width="0.8" fill="none"/><path d="M127.78 186.73L130.28 190.93L125.28 190.93Z" stroke="#808080" stroke-width="0.8" fill="none"/><path d="M132.05 178.80L134.55 183.00L129.55 183.00Z" stroke="#808080" stroke-width="0.8" fill="none"/><path d="M136.33 172.35L138.83 176.55L133.83 176.55Z" stroke="#808080" stroke-width="0.8" fill="none"/><path d="M140.61 167.69L143.11 171.89L138.11 171.89Z" stroke="#808080" stroke-width="0.8" fill="none"/><path d="M144.89 163.73L147.39 167.93L142.39 167.93Z" stroke="#808080" stroke-width="0.8" fill="none"/><path d="M149.17 160.35L151.67 164.56L146.67 164.56Z" stroke="#808080" stroke-width="0.8" fill="none"/><path d="M153.45 157.38L155.95 161.58L150.95 161.58Z" stroke="#808080" stroke-width="0.8" fill="none"/><path d="M157.72 154.70L160.22 158.90L155.22 158.90Z" stroke="#808080" stroke-width="0.8" fill="none"/><path d="M162.00 152.12L164.50 156.32L159.50 156.32Z" stroke="#808080" stroke-width="0.8" fill="none"/><path d="M166.28 149.74L168.78 153.94L163.78 153.94Z" stroke="#808080" stroke-width="0.8" fill="none"/><path d="M170.56 147.56L173.06 151.76L168.06 151.76Z" stroke="#808080" stroke-width="0.8" fill="none"/><path d="M174.84 145.68L177.34 149.88L172.34 149.88Z" stroke="#808080" stroke-width="0.8" fill="none"/><path d="M179.12 143.89L181.62 148.09L176.62 148.09Z" stroke="#808080" stroke-width="0.8" fill="none"/><path d="M183.39 142.18L185.89 146.38L180.89 146.38Z" stroke="#808080" stroke-width="0.8" fill="none"/><path d="M187.67 140.62L190.17 144.82L185.17 144.82Z" stroke="#808080" stroke-width="0.8" fill="none"/><path d="M191.95 139.33L194.45 143.53L189.45 143.53Z" stroke="#808080" stroke-width="0.8" fill="none"/><path d="M196.23 138.14L198.73 142.34L193.73 142.34Z" stroke="#808080" stroke-width="0.8" fill="none"/><path d="M200.51 136.96L203.01 141.16L198.01 141.16Z" stroke="#808080" stroke-width="0.8" fill="none"/><path d="M204.79 135.86L207.29 140.06L202.29 140.06Z" stroke="#808080" stroke-width="0.8" fill="none"/><path d="M209.06 134.87L211.56 139.07L206.56 139.07Z" stroke="#808080" stroke-width="0.8" fill="none"/><path d="M213.34 133.98L215.84 138.18L210.84 138.18Z" stroke="#808080" stroke-width="0.8" fill="none"/><path d="M217.62 133.16L220.12 137.36L215.12 137.36Z" stroke="#808080" stroke-width="0.8" fill="none"/><path d="M221.90 132.49L224.40 136.69L219.40 136.69Z" stroke="#808080" stroke-width="0.8" fill="none"/><path d="M226.18 131.99L228.68 136.19L223.68 136.19Z" stroke="#808080" stroke-width="0.8" fill="none"/><path d="M230.46 131.60L232.96 135.80L227.96 135.80Z" stroke="#808080" stroke-width="0.8" fill="none"/><path d="M234.73 131.27L237.23 135.47L232.23 135.47Z" stroke="#808080" stroke-width="0.8" fill="none"/><path d="M239.01 131.00L241.51 135.20L236.51 135.20Z" stroke="#808080" stroke-width="0.8" fill="none"/><path d="M243.29 130.79L245.79 134.99L240.79 134.99Z" stroke="#808080" stroke-width="0.8" fill="none"/><path d="M247.57 130.60L250.07 134.81L245.07 134.81Z" stroke="#808080" stroke-width="0.8" fill="none"/><path d="M251.85 130.43L254.35 134.63L249.35 134.63Z" stroke="#808080" stroke-width="0.8" fill="none"/><path d="M256.13 130.26L258.63 134.46L253.63 134.46Z" stroke="#808080" stroke-width="0.8" fill="none"/><path d="M260.40 130.10L262.90 134.30L257.90 134.30Z" stroke="#808080" stroke-width="0.8" fill="none"/><path d="M264.68 129.95L267.18 134.15L262.18 134.15Z" stroke="#808080" stroke-width="0.8" fill="none"/><path d="M268.96 129.82L271.46 134.02L266.46 134.02Z" stroke="#808080" stroke-width="0.8" fill="none"/><path d="M273.24 129.71L275.74 133.91L270.74 133.91Z" stroke="#808080" stroke-width="0.8" fill="none"/><path d="M277.52 129.61L280.02 133.81L275.02 133.81Z" stroke="#808080" stroke-width="0.8" fill="none"/><path d="M281.80 129.52L284.30 133.72L279.30 133.72Z" stroke="#808080" stroke-width="0.8" fill="none"/><path d="M286.07 129.42L288.57 133.62L283.57 133.62Z" stroke="#808080" stroke-width="0.8" fill="none"/><path d="M290.35 129.33L292.85 133.53L287.85 133.53Z" stroke="#808080" stroke-width="0.8" fill="none"/><path d="M294.63 129.25L297.13 133.45L292.13 133.45Z" stroke="#808080" stroke-width="0.8" fill="none"/><path d="M298.91 129.16L301.41 133.36L296.41 133.36Z" stroke="#808080" stroke-width="0.8" fill="none"/><path d="M303.19 129.09L305.69 133.29L300.69 133.29Z" stroke="#808080" stroke-width="0.8" fill="none"/><path d="M307.47 129.02L309.97 133.22L304.97 133.22Z" stroke="#808080" stroke-width="0.8" fill="none"/><path d="M311.74 128.96L314.24 133.16L309.24 133.16Z" stroke="#808080" stroke-width="0.8" fill="none"/><path d="M316.02 128.91L318.52 133.11L313.52 133.11Z" stroke="#808080" stroke-width="0.8" fill="none"/><path d="M320.30 128.87L322.80 133.07L317.80 133.07Z" stroke="#808080" stroke-width="0.8" fill="none"/><path d="M324.58 128.84L327.08 133.04L322.08 133.04Z" stroke="#808080" stroke-width="0.8" fill="none"/><path d="M328.86 128.82L331.36 133.02L326.36 133.02Z" stroke="#808080" stroke-width="0.8" fill="none"/><path d="M333.14 128.81L335.64 133.01L330.64 133.01Z" stroke="#808080" stroke-width="0.8" fill="none"/><path d="M337.41 128.80L339.91 133.00L334.91 133.00Z" stroke="#808080" stroke-width="0.8" fill="none"/><path d="M341.69 128.79L344.19 132.99L339.19 132.99Z" stroke="#808080" stroke-width="0.8" fill="none"/><path d="M345.97 128.78L348.47 132.98L343.47 132.98Z" stroke="#808080" stroke-width="0.8" fill="none"/><path d="M350.25 128.76L352.75 132.96L347.75 132.96Z" stroke="#808080" stroke-width="0.8" fill="none"/><path d="M354.53 128.75L357.03 132.95L352.03 132.95Z" stroke="#808080" stroke-width="0.8" fill="none"/><path d="M358.81 128.75L361.31 132.95L356.31 132.95Z" stroke="#808080" stroke-width="0.8" fill="none"/><path d="M363.08 128.74L365.58 132.94L360.58 132.94Z" stroke="#808080" stroke-width="0.8" fill="none"/><path d="M367.36 128.73L369.86 132.93L364.86 132.93Z" stroke="#808080" stroke-width="0.8" fill="none"/><path d="M371.64 128.72L374.14 132.92L369.14 132.92Z" stroke="#808080" stroke-width="0.8" fill="none"/><path d="M375.92 128.71L378.42 132.91L373.42 132.91Z" stroke="#808080" stroke-width="0.8" fill="none"/><path d="M380.20 128.70L382.70 132.90L377.70 132.90Z" stroke="#808080" stroke-width="0.8" fill="none"/><path d="M384.48 128.70L386.98 132.90L381.98 132.90Z" stroke="#808080" stroke-width="0.8" fill="none"/><path d="M388.75 128.69L391.25 132.89L386.25 132.89Z" stroke="#808080" stroke-width="0.8" fill="none"/><path d="M393.03 128.68L395.53 132.88L390.53 132.88Z" stroke="#808080" stroke-width="0.8" fill="none"/><path d="M397.31 128.68L399.81 132.88L394.81 132.88Z" stroke="#808080" stroke-width="0.8" fill="none"/><path d="M401.59 128.67L404.09 132.87L399.09 132.87Z" stroke="#808080" stroke-width="0.8" fill="none"/><path d="M405.87 128.67L408.37 132.87L403.37 132.87Z" stroke="#808080" stroke-width="0.8" fill="none"/><path d="M410.15 128.66L412.65 132.86L407.65 132.86Z" stroke="#808080" stroke-width="0.8" fill="none"/><path d="M414.42 128.66L416.92 132.86L411.92 132.86Z" stroke="#808080" stroke-width="0.8" fill="none"/><path d="M418.70 128.65L421.20 132.85L416.20 132.85Z" stroke="#808080" stroke-width="0.8" fill="none"/><path d="M422.98 128.65L425.48 132.85L420.48 132.85Z" stroke="#808080" stroke-width="0.8" fill="none"/><path d="M427.26 128.64L429.76 132.84L424.76 132.84Z" stroke="#808080" stroke-width="0.8" fill="none"/><path d="M431.54 128.64L434.04 132.84L429.04 132.84Z" stroke="#808080" stroke-width="0.8" fill="none"/><path d="M435.82 128.64L438.32 132.84L433.32 132.84Z" stroke="#808080" stroke-width="0.8" fill="none"/><path d="M440.09 128.63L442.59 132.83L437.59 132.83Z" stroke="#808080" stroke-width="0.8" fill="none"/><path d="M444.37 128.63L446.87 132.83L441.87 132.83Z" stroke="#808080" stroke-width="0.8" fill="none"/><path d="M448.65 128.63L451.15 132.83L446.15 132.83Z" stroke="#808080" stroke-width="0.8" fill="none"/><path d="M452.93 128.63L455.43 132.83L450.43 132.83Z" stroke="#808080" stroke-width="0.8" fill="none"/><path d="M457.21 128.63L459.71 132.83L454.71 132.83Z" stroke="#808080" stroke-width="0.8" fill="none"/><path d="M461.49 128.62L463.99 132.82L458.99 132.82Z" stroke="#808080" stroke-width="0.8" fill="none"/><path d="M465.76 128.62L468.26 132.82L463.26 132.82Z" stroke="#808080" stroke-width="0.8" fill="none"/><path d="M470.04 128.62L472.54 132.82L467.54 132.82Z" stroke="#808080" stroke-width="0.8" fill="none"/><path d="M474.32 128.62L476.82 132.82L471.82 132.82Z" stroke="#808080" stroke-width="0.8" fill="none"/><path d="M478.60 128.62L481.10 132.82L476.10 132.82Z" stroke="#808080" stroke-width="0.8" fill="none"/></g>
<path d="M243 253.5H278" stroke="#808080" stroke-width="0.9" fill="none" stroke-dasharray="1.5,1"/>
<path d="M260.50 250.70L263.00 254.90L258.00 254.90Z" stroke="#808080" stroke-width="0.8" fill="none"/>
<polyline clip-path="url(#cl)" points="63.60,-4.83 67.88,169.70 72.16,245.81 76.44,277.30 80.71,288.70 84.99,288.70 89.27,282.75 93.55,275.31 97.83,265.02 102.11,254.04 106.38,242.46 110.66,230.19 114.94,217.99 119.22,205.90 123.50,195.48 127.78,186.56 132.05,179.32 136.33,172.68 140.61,166.43 144.89,159.98 149.17,154.03 153.45,148.88 157.72,143.92 162.00,139.45 166.28,135.49 170.56,132.02 174.84,129.04 179.12,126.56 183.39,124.29 187.67,122.10 191.95,119.94 196.23,117.84 200.51,115.80 204.79,113.87 209.06,112.06 213.34,110.40 217.62,108.90 221.90,107.62 226.18,106.57 230.46,105.63 234.73,104.79 239.01,104.05 243.29,103.43 247.57,102.86 251.85,102.25 256.13,101.64 260.40,101.04 264.68,100.48 268.96,99.96 273.24,99.46 277.52,98.98 281.80,98.53 286.07,98.10 290.35,97.71 294.63,97.34 298.91,96.98 303.19,96.64 307.47,96.32 311.74,96.00 316.02,95.69 320.30,95.39 324.58,95.10 328.86,94.83 333.14,94.57 337.41,94.32 341.69,94.08 345.97,93.85 350.25,93.64 354.53,93.43 358.81,93.23 363.08,93.03 367.36,92.83 371.64,92.65 375.92,92.47 380.20,92.30 384.48,92.14 388.75,91.99 393.03,91.85 397.31,91.73 401.59,91.60 405.87,91.48 410.15,91.36 414.42,91.24 418.70,91.12 422.98,91.01 427.26,90.90 431.54,90.79 435.82,90.69 440.09,90.59 444.37,90.50 448.65,90.41 452.93,90.33 457.21,90.25 461.49,90.18 465.76,90.12 470.04,90.06 474.32,90.01 478.60,89.97" fill="none" stroke="#0000ff" stroke-width="0.9" stroke-dasharray="1.2,1.9"/>
<g clip-path="url(#c)"><path d="M65.18 169.70h5.4M67.88 166.90v5.6M65.58 167.40l4.6 4.6M65.58 172.00l4.6 -4.6" stroke="#0000ff" stroke-width="1.15" fill="none"/><path d="M69.46 245.81h5.4M72.16 243.01v5.6M69.86 243.51l4.6 4.6M69.86 248.11l4.6 -4.6" stroke="#0000ff" stroke-width="1.15" fill="none"/><path d="M73.74 277.30h5.4M76.44 274.50v5.6M74.14 275.00l4.6 4.6M74.14 279.60l4.6 -4.6" stroke="#0000ff" stroke-width="1.15" fill="none"/><path d="M78.01 288.70h5.4M80.71 285.90v5.6M78.41 286.40l4.6 4.6M78.41 291.00l4.6 -4.6" stroke="#0000ff" stroke-width="1.15" fill="none"/><path d="M82.29 288.70h5.4M84.99 285.90v5.6M82.69 286.40l4.6 4.6M82.69 291.00l4.6 -4.6" stroke="#0000ff" stroke-width="1.15" fill="none"/><path d="M86.57 282.75h5.4M89.27 279.95v5.6M86.97 280.45l4.6 4.6M86.97 285.05l4.6 -4.6" stroke="#0000ff" stroke-width="1.15" fill="none"/><path d="M90.85 275.31h5.4M93.55 272.51v5.6M91.25 273.01l4.6 4.6M91.25 277.61l4.6 -4.6" stroke="#0000ff" stroke-width="1.15" fill="none"/><path d="M95.13 265.02h5.4M97.83 262.22v5.6M95.53 262.72l4.6 4.6M95.53 267.32l4.6 -4.6" stroke="#0000ff" stroke-width="1.15" fill="none"/><path d="M99.41 254.04h5.4M102.11 251.24v5.6M99.81 251.74l4.6 4.6M99.81 256.34l4.6 -4.6" stroke="#0000ff" stroke-width="1.15" fill="none"/><path d="M103.68 242.46h5.4M106.38 239.66v5.6M104.08 240.16l4.6 4.6M104.08 244.76l4.6 -4.6" stroke="#0000ff" stroke-width="1.15" fill="none"/><path d="M107.96 230.19h5.4M110.66 227.39v5.6M108.36 227.89l4.6 4.6M108.36 232.49l4.6 -4.6" stroke="#0000ff" stroke-width="1.15" fill="none"/><path d="M112.24 217.99h5.4M114.94 215.19v5.6M112.64 215.69l4.6 4.6M112.64 220.29l4.6 -4.6" stroke="#0000ff" stroke-width="1.15" fill="none"/><path d="M116.52 205.90h5.4M119.22 203.10v5.6M116.92 203.60l4.6 4.6M116.92 208.20l4.6 -4.6" stroke="#0000ff" stroke-width="1.15" fill="none"/><path d="M120.80 195.48h5.4M123.50 192.68v5.6M121.20 193.18l4.6 4.6M121.20 197.78l4.6 -4.6" stroke="#0000ff" stroke-width="1.15" fill="none"/><path d="M125.08 186.56h5.4M127.78 183.76v5.6M125.48 184.26l4.6 4.6M125.48 188.86l4.6 -4.6" stroke="#0000ff" stroke-width="1.15" fill="none"/><path d="M129.35 179.32h5.4M132.05 176.52v5.6M129.75 177.02l4.6 4.6M129.75 181.62l4.6 -4.6" stroke="#0000ff" stroke-width="1.15" fill="none"/><path d="M133.63 172.68h5.4M136.33 169.88v5.6M134.03 170.38l4.6 4.6M134.03 174.98l4.6 -4.6" stroke="#0000ff" stroke-width="1.15" fill="none"/><path d="M137.91 166.43h5.4M140.61 163.63v5.6M138.31 164.13l4.6 4.6M138.31 168.73l4.6 -4.6" stroke="#0000ff" stroke-width="1.15" fill="none"/><path d="M142.19 159.98h5.4M144.89 157.18v5.6M142.59 157.68l4.6 4.6M142.59 162.28l4.6 -4.6" stroke="#0000ff" stroke-width="1.15" fill="none"/><path d="M146.47 154.03h5.4M149.17 151.23v5.6M146.87 151.73l4.6 4.6M146.87 156.33l4.6 -4.6" stroke="#0000ff" stroke-width="1.15" fill="none"/><path d="M150.75 148.88h5.4M153.45 146.07v5.6M151.15 146.57l4.6 4.6M151.15 151.18l4.6 -4.6" stroke="#0000ff" stroke-width="1.15" fill="none"/><path d="M155.02 143.92h5.4M157.72 141.12v5.6M155.42 141.62l4.6 4.6M155.42 146.22l4.6 -4.6" stroke="#0000ff" stroke-width="1.15" fill="none"/><path d="M159.30 139.45h5.4M162.00 136.65v5.6M159.70 137.15l4.6 4.6M159.70 141.75l4.6 -4.6" stroke="#0000ff" stroke-width="1.15" fill="none"/><path d="M163.58 135.49h5.4M166.28 132.69v5.6M163.98 133.19l4.6 4.6M163.98 137.79l4.6 -4.6" stroke="#0000ff" stroke-width="1.15" fill="none"/><path d="M167.86 132.02h5.4M170.56 129.22v5.6M168.26 129.72l4.6 4.6M168.26 134.32l4.6 -4.6" stroke="#0000ff" stroke-width="1.15" fill="none"/><path d="M172.14 129.04h5.4M174.84 126.24v5.6M172.54 126.74l4.6 4.6M172.54 131.34l4.6 -4.6" stroke="#0000ff" stroke-width="1.15" fill="none"/><path d="M176.42 126.56h5.4M179.12 123.76v5.6M176.82 124.26l4.6 4.6M176.82 128.86l4.6 -4.6" stroke="#0000ff" stroke-width="1.15" fill="none"/><path d="M180.69 124.29h5.4M183.39 121.49v5.6M181.09 121.99l4.6 4.6M181.09 126.59l4.6 -4.6" stroke="#0000ff" stroke-width="1.15" fill="none"/><path d="M184.97 122.10h5.4M187.67 119.30v5.6M185.37 119.80l4.6 4.6M185.37 124.40l4.6 -4.6" stroke="#0000ff" stroke-width="1.15" fill="none"/><path d="M189.25 119.94h5.4M191.95 117.14v5.6M189.65 117.64l4.6 4.6M189.65 122.24l4.6 -4.6" stroke="#0000ff" stroke-width="1.15" fill="none"/><path d="M193.53 117.84h5.4M196.23 115.04v5.6M193.93 115.54l4.6 4.6M193.93 120.14l4.6 -4.6" stroke="#0000ff" stroke-width="1.15" fill="none"/><path d="M197.81 115.80h5.4M200.51 113.00v5.6M198.21 113.50l4.6 4.6M198.21 118.10l4.6 -4.6" stroke="#0000ff" stroke-width="1.15" fill="none"/><path d="M202.09 113.87h5.4M204.79 111.07v5.6M202.49 111.57l4.6 4.6M202.49 116.17l4.6 -4.6" stroke="#0000ff" stroke-width="1.15" fill="none"/><path d="M206.36 112.06h5.4M209.06 109.26v5.6M206.76 109.76l4.6 4.6M206.76 114.36l4.6 -4.6" stroke="#0000ff" stroke-width="1.15" fill="none"/><path d="M210.64 110.40h5.4M213.34 107.60v5.6M211.04 108.10l4.6 4.6M211.04 112.70l4.6 -4.6" stroke="#0000ff" stroke-width="1.15" fill="none"/><path d="M214.92 108.90h5.4M217.62 106.10v5.6M215.32 106.60l4.6 4.6M215.32 111.20l4.6 -4.6" stroke="#0000ff" stroke-width="1.15" fill="none"/><path d="M219.20 107.62h5.4M221.90 104.82v5.6M219.60 105.32l4.6 4.6M219.60 109.92l4.6 -4.6" stroke="#0000ff" stroke-width="1.15" fill="none"/><path d="M223.48 106.57h5.4M226.18 103.77v5.6M223.88 104.27l4.6 4.6M223.88 108.87l4.6 -4.6" stroke="#0000ff" stroke-width="1.15" fill="none"/><path d="M227.76 105.63h5.4M230.46 102.83v5.6M228.16 103.33l4.6 4.6M228.16 107.93l4.6 -4.6" stroke="#0000ff" stroke-width="1.15" fill="none"/><path d="M232.03 104.79h5.4M234.73 101.99v5.6M232.43 102.49l4.6 4.6M232.43 107.09l4.6 -4.6" stroke="#0000ff" stroke-width="1.15" fill="none"/><path d="M236.31 104.05h5.4M239.01 101.25v5.6M236.71 101.75l4.6 4.6M236.71 106.35l4.6 -4.6" stroke="#0000ff" stroke-width="1.15" fill="none"/><path d="M240.59 103.43h5.4M243.29 100.63v5.6M240.99 101.13l4.6 4.6M240.99 105.73l4.6 -4.6" stroke="#0000ff" stroke-width="1.15" fill="none"/><path d="M244.87 102.86h5.4M247.57 100.06v5.6M245.27 100.56l4.6 4.6M245.27 105.16l4.6 -4.6" stroke="#0000ff" stroke-width="1.15" fill="none"/><path d="M249.15 102.25h5.4M251.85 99.45v5.6M249.55 99.95l4.6 4.6M249.55 104.55l4.6 -4.6" stroke="#0000ff" stroke-width="1.15" fill="none"/><path d="M253.43 101.64h5.4M256.13 98.84v5.6M253.83 99.34l4.6 4.6M253.83 103.94l4.6 -4.6" stroke="#0000ff" stroke-width="1.15" fill="none"/><path d="M257.70 101.04h5.4M260.40 98.24v5.6M258.10 98.74l4.6 4.6M258.10 103.34l4.6 -4.6" stroke="#0000ff" stroke-width="1.15" fill="none"/><path d="M261.98 100.48h5.4M264.68 97.68v5.6M262.38 98.18l4.6 4.6M262.38 102.78l4.6 -4.6" stroke="#0000ff" stroke-width="1.15" fill="none"/><path d="M266.26 99.96h5.4M268.96 97.16v5.6M266.66 97.66l4.6 4.6M266.66 102.26l4.6 -4.6" stroke="#0000ff" stroke-width="1.15" fill="none"/><path d="M270.54 99.46h5.4M273.24 96.66v5.6M270.94 97.16l4.6 4.6M270.94 101.76l4.6 -4.6" stroke="#0000ff" stroke-width="1.15" fill="none"/><path d="M274.82 98.98h5.4M277.52 96.18v5.6M275.22 96.68l4.6 4.6M275.22 101.28l4.6 -4.6" stroke="#0000ff" stroke-width="1.15" fill="none"/><path d="M279.10 98.53h5.4M281.80 95.73v5.6M279.50 96.23l4.6 4.6M279.50 100.83l4.6 -4.6" stroke="#0000ff" stroke-width="1.15" fill="none"/><path d="M283.37 98.10h5.4M286.07 95.30v5.6M283.77 95.80l4.6 4.6M283.77 100.40l4.6 -4.6" stroke="#0000ff" stroke-width="1.15" fill="none"/><path d="M287.65 97.71h5.4M290.35 94.91v5.6M288.05 95.41l4.6 4.6M288.05 100.01l4.6 -4.6" stroke="#0000ff" stroke-width="1.15" fill="none"/><path d="M291.93 97.34h5.4M294.63 94.54v5.6M292.33 95.04l4.6 4.6M292.33 99.64l4.6 -4.6" stroke="#0000ff" stroke-width="1.15" fill="none"/><path d="M296.21 96.98h5.4M298.91 94.18v5.6M296.61 94.68l4.6 4.6M296.61 99.28l4.6 -4.6" stroke="#0000ff" stroke-width="1.15" fill="none"/><path d="M300.49 96.64h5.4M303.19 93.84v5.6M300.89 94.34l4.6 4.6M300.89 98.94l4.6 -4.6" stroke="#0000ff" stroke-width="1.15" fill="none"/><path d="M304.77 96.32h5.4M307.47 93.52v5.6M305.17 94.02l4.6 4.6M305.17 98.62l4.6 -4.6" stroke="#0000ff" stroke-width="1.15" fill="none"/><path d="M309.04 96.00h5.4M311.74 93.20v5.6M309.44 93.70l4.6 4.6M309.44 98.30l4.6 -4.6" stroke="#0000ff" stroke-width="1.15" fill="none"/><path d="M313.32 95.69h5.4M316.02 92.89v5.6M313.72 93.39l4.6 4.6M313.72 97.99l4.6 -4.6" stroke="#0000ff" stroke-width="1.15" fill="none"/><path d="M317.60 95.39h5.4M320.30 92.59v5.6M318.00 93.09l4.6 4.6M318.00 97.69l4.6 -4.6" stroke="#0000ff" stroke-width="1.15" fill="none"/><path d="M321.88 95.10h5.4M324.58 92.30v5.6M322.28 92.80l4.6 4.6M322.28 97.40l4.6 -4.6" stroke="#0000ff" stroke-width="1.15" fill="none"/><path d="M326.16 94.83h5.4M328.86 92.03v5.6M326.56 92.53l4.6 4.6M326.56 97.13l4.6 -4.6" stroke="#0000ff" stroke-width="1.15" fill="none"/><path d="M330.44 94.57h5.4M333.14 91.77v5.6M330.84 92.27l4.6 4.6M330.84 96.87l4.6 -4.6" stroke="#0000ff" stroke-width="1.15" fill="none"/><path d="M334.71 94.32h5.4M337.41 91.52v5.6M335.11 92.02l4.6 4.6M335.11 96.62l4.6 -4.6" stroke="#0000ff" stroke-width="1.15" fill="none"/><path d="M338.99 94.08h5.4M341.69 91.28v5.6M339.39 91.78l4.6 4.6M339.39 96.38l4.6 -4.6" stroke="#0000ff" stroke-width="1.15" fill="none"/><path d="M343.27 93.85h5.4M345.97 91.05v5.6M343.67 91.55l4.6 4.6M343.67 96.15l4.6 -4.6" stroke="#0000ff" stroke-width="1.15" fill="none"/><path d="M347.55 93.64h5.4M350.25 90.84v5.6M347.95 91.34l4.6 4.6M347.95 95.94l4.6 -4.6" stroke="#0000ff" stroke-width="1.15" fill="none"/><path d="M351.83 93.43h5.4M354.53 90.63v5.6M352.23 91.13l4.6 4.6M352.23 95.73l4.6 -4.6" stroke="#0000ff" stroke-width="1.15" fill="none"/><path d="M356.11 93.23h5.4M358.81 90.43v5.6M356.51 90.93l4.6 4.6M356.51 95.53l4.6 -4.6" stroke="#0000ff" stroke-width="1.15" fill="none"/><path d="M360.38 93.03h5.4M363.08 90.23v5.6M360.78 90.73l4.6 4.6M360.78 95.33l4.6 -4.6" stroke="#0000ff" stroke-width="1.15" fill="none"/><path d="M364.66 92.83h5.4M367.36 90.03v5.6M365.06 90.53l4.6 4.6M365.06 95.13l4.6 -4.6" stroke="#0000ff" stroke-width="1.15" fill="none"/><path d="M368.94 92.65h5.4M371.64 89.85v5.6M369.34 90.35l4.6 4.6M369.34 94.95l4.6 -4.6" stroke="#0000ff" stroke-width="1.15" fill="none"/><path d="M373.22 92.47h5.4M375.92 89.67v5.6M373.62 90.17l4.6 4.6M373.62 94.77l4.6 -4.6" stroke="#0000ff" stroke-width="1.15" fill="none"/><path d="M377.50 92.30h5.4M380.20 89.50v5.6M377.90 90.00l4.6 4.6M377.90 94.60l4.6 -4.6" stroke="#0000ff" stroke-width="1.15" fill="none"/><path d="M381.78 92.14h5.4M384.48 89.34v5.6M382.18 89.84l4.6 4.6M382.18 94.44l4.6 -4.6" stroke="#0000ff" stroke-width="1.15" fill="none"/><path d="M386.05 91.99h5.4M388.75 89.19v5.6M386.45 89.69l4.6 4.6M386.45 94.29l4.6 -4.6" stroke="#0000ff" stroke-width="1.15" fill="none"/><path d="M390.33 91.85h5.4M393.03 89.05v5.6M390.73 89.55l4.6 4.6M390.73 94.15l4.6 -4.6" stroke="#0000ff" stroke-width="1.15" fill="none"/><path d="M394.61 91.73h5.4M397.31 88.93v5.6M395.01 89.43l4.6 4.6M395.01 94.03l4.6 -4.6" stroke="#0000ff" stroke-width="1.15" fill="none"/><path d="M398.89 91.60h5.4M401.59 88.80v5.6M399.29 89.30l4.6 4.6M399.29 93.90l4.6 -4.6" stroke="#0000ff" stroke-width="1.15" fill="none"/><path d="M403.17 91.48h5.4M405.87 88.68v5.6M403.57 89.18l4.6 4.6M403.57 93.78l4.6 -4.6" stroke="#0000ff" stroke-width="1.15" fill="none"/><path d="M407.45 91.36h5.4M410.15 88.56v5.6M407.85 89.06l4.6 4.6M407.85 93.66l4.6 -4.6" stroke="#0000ff" stroke-width="1.15" fill="none"/><path d="M411.72 91.24h5.4M414.42 88.44v5.6M412.12 88.94l4.6 4.6M412.12 93.54l4.6 -4.6" stroke="#0000ff" stroke-width="1.15" fill="none"/><path d="M416.00 91.12h5.4M418.70 88.32v5.6M416.40 88.82l4.6 4.6M416.40 93.42l4.6 -4.6" stroke="#0000ff" stroke-width="1.15" fill="none"/><path d="M420.28 91.01h5.4M422.98 88.21v5.6M420.68 88.71l4.6 4.6M420.68 93.31l4.6 -4.6" stroke="#0000ff" stroke-width="1.15" fill="none"/><path d="M424.56 90.90h5.4M427.26 88.10v5.6M424.96 88.60l4.6 4.6M424.96 93.20l4.6 -4.6" stroke="#0000ff" stroke-width="1.15" fill="none"/><path d="M428.84 90.79h5.4M431.54 87.99v5.6M429.24 88.49l4.6 4.6M429.24 93.09l4.6 -4.6" stroke="#0000ff" stroke-width="1.15" fill="none"/><path d="M433.12 90.69h5.4M435.82 87.89v5.6M433.52 88.39l4.6 4.6M433.52 92.99l4.6 -4.6" stroke="#0000ff" stroke-width="1.15" fill="none"/><path d="M437.39 90.59h5.4M440.09 87.79v5.6M437.79 88.29l4.6 4.6M437.79 92.89l4.6 -4.6" stroke="#0000ff" stroke-width="1.15" fill="none"/><path d="M441.67 90.50h5.4M444.37 87.70v5.6M442.07 88.20l4.6 4.6M442.07 92.80l4.6 -4.6" stroke="#0000ff" stroke-width="1.15" fill="none"/><path d="M445.95 90.41h5.4M448.65 87.61v5.6M446.35 88.11l4.6 4.6M446.35 92.71l4.6 -4.6" stroke="#0000ff" stroke-width="1.15" fill="none"/><path d="M450.23 90.33h5.4M452.93 87.53v5.6M450.63 88.03l4.6 4.6M450.63 92.63l4.6 -4.6" stroke="#0000ff" stroke-width="1.15" fill="none"/><path d="M454.51 90.25h5.4M457.21 87.45v5.6M454.91 87.95l4.6 4.6M454.91 92.55l4.6 -4.6" stroke="#0000ff" stroke-width="1.15" fill="none"/><path d="M458.79 90.18h5.4M461.49 87.38v5.6M459.19 87.88l4.6 4.6M459.19 92.48l4.6 -4.6" stroke="#0000ff" stroke-width="1.15" fill="none"/><path d="M463.06 90.12h5.4M465.76 87.32v5.6M463.46 87.82l4.6 4.6M463.46 92.42l4.6 -4.6" stroke="#0000ff" stroke-width="1.15" fill="none"/><path d="M467.34 90.06h5.4M470.04 87.26v5.6M467.74 87.76l4.6 4.6M467.74 92.36l4.6 -4.6" stroke="#0000ff" stroke-width="1.15" fill="none"/><path d="M471.62 90.01h5.4M474.32 87.21v5.6M472.02 87.71l4.6 4.6M472.02 92.31l4.6 -4.6" stroke="#0000ff" stroke-width="1.15" fill="none"/><path d="M475.90 89.97h5.4M478.60 87.17v5.6M476.30 87.67l4.6 4.6M476.30 92.27l4.6 -4.6" stroke="#0000ff" stroke-width="1.15" fill="none"/></g>
<path d="M243 266.0H278" stroke="#0000ff" stroke-width="0.9" fill="none" stroke-dasharray="1.2,1.9"/>
<path d="M257.80 266.00h5.4M260.50 263.20v5.6M258.20 263.70l4.6 4.6M258.20 268.30l4.6 -4.6" stroke="#0000ff" stroke-width="1.15" fill="none"/>
<polyline clip-path="url(#cl)" points="63.60,-4.83 67.88,169.70 72.16,245.31 76.44,276.30 80.71,287.71 84.99,287.71 89.27,281.76 93.55,274.32 97.83,264.28 102.11,253.55 106.38,242.22 110.66,230.19 114.94,217.99 119.22,206.99 123.50,196.47 127.78,187.55 132.05,179.62 136.33,172.68 140.61,167.22 144.89,161.57 149.17,155.82 153.45,150.66 157.72,145.70 162.00,141.24 166.28,137.27 170.56,133.60 174.84,130.23 179.12,127.36 183.39,124.58 187.67,121.90 191.95,119.31 196.23,116.84 200.51,114.52 204.79,112.38 209.06,110.49 213.34,108.81 217.62,107.35 221.90,106.03 226.18,104.84 230.46,103.75 234.73,102.80 239.01,101.87 243.29,100.83 247.57,99.79 251.85,98.81 256.13,97.85 260.40,96.95 264.68,96.12 268.96,95.37 273.24,94.68 277.52,94.03 281.80,93.39 286.07,92.75 290.35,92.09 294.63,91.43 298.91,90.78 303.19,90.16 307.47,89.57 311.74,89.03 316.02,88.51 320.30,88.02 324.58,87.54 328.86,87.09 333.14,86.67 337.41,86.26 341.69,85.87 345.97,85.49 350.25,85.11 354.53,84.72 358.81,84.33 363.08,83.93 367.36,83.54 371.64,83.15 375.92,82.77 380.20,82.41 384.48,82.06 388.75,81.74 393.03,81.44 397.31,81.16 401.59,80.89 405.87,80.63 410.15,80.39 414.42,80.18 418.70,80.00 422.98,79.85 427.26,79.70 431.54,79.56 435.82,79.42 440.09,79.28 444.37,79.16 448.65,79.04 452.93,78.93 457.21,78.83 461.49,78.75 465.76,78.68 470.04,78.62 474.32,78.58 478.60,78.57" fill="none" stroke="#ff00ff" stroke-width="0.9" stroke-dasharray="1,0.9"/>
<g clip-path="url(#c)"><rect x="65.73" y="167.20" width="4.3" height="5" fill="none" stroke="#ff00ff" stroke-width="0.8"/><rect x="70.01" y="242.81" width="4.3" height="5" fill="none" stroke="#ff00ff" stroke-width="0.8"/><rect x="74.29" y="273.80" width="4.3" height="5" fill="none" stroke="#ff00ff" stroke-width="0.8"/><rect x="78.56" y="285.21" width="4.3" height="5" fill="none" stroke="#ff00ff" stroke-width="0.8"/><rect x="82.84" y="285.21" width="4.3" height="5" fill="none" stroke="#ff00ff" stroke-width="0.8"/><rect x="87.12" y="279.26" width="4.3" height="5" fill="none" stroke="#ff00ff" stroke-width="0.8"/><rect x="91.40" y="271.82" width="4.3" height="5" fill="none" stroke="#ff00ff" stroke-width="0.8"/><rect x="95.68" y="261.78" width="4.3" height="5" fill="none" stroke="#ff00ff" stroke-width="0.8"/><rect x="99.96" y="251.05" width="4.3" height="5" fill="none" stroke="#ff00ff" stroke-width="0.8"/><rect x="104.23" y="239.72" width="4.3" height="5" fill="none" stroke="#ff00ff" stroke-width="0.8"/><rect x="108.51" y="227.69" width="4.3" height="5" fill="none" stroke="#ff00ff" stroke-width="0.8"/><rect x="112.79" y="215.49" width="4.3" height="5" fill="none" stroke="#ff00ff" stroke-width="0.8"/><rect x="117.07" y="204.49" width="4.3" height="5" fill="none" stroke="#ff00ff" stroke-width="0.8"/><rect x="121.35" y="193.97" width="4.3" height="5" fill="none" stroke="#ff00ff" stroke-width="0.8"/><rect x="125.63" y="185.05" width="4.3" height="5" fill="none" stroke="#ff00ff" stroke-width="0.8"/><rect x="129.90" y="177.12" width="4.3" height="5" fill="none" stroke="#ff00ff" stroke-width="0.8"/><rect x="134.18" y="170.18" width="4.3" height="5" fill="none" stroke="#ff00ff" stroke-width="0.8"/><rect x="138.46" y="164.72" width="4.3" height="5" fill="none" stroke="#ff00ff" stroke-width="0.8"/><rect x="142.74" y="159.07" width="4.3" height="5" fill="none" stroke="#ff00ff" stroke-width="0.8"/><rect x="147.02" y="153.32" width="4.3" height="5" fill="none" stroke="#ff00ff" stroke-width="0.8"/><rect x="151.30" y="148.16" width="4.3" height="5" fill="none" stroke="#ff00ff" stroke-width="0.8"/><rect x="155.57" y="143.20" width="4.3" height="5" fill="none" stroke="#ff00ff" stroke-width="0.8"/><rect x="159.85" y="138.74" width="4.3" height="5" fill="none" stroke="#ff00ff" stroke-width="0.8"/><rect x="164.13" y="134.77" width="4.3" height="5" fill="none" stroke="#ff00ff" stroke-width="0.8"/><rect x="168.41" y="131.10" width="4.3" height="5" fill="none" stroke="#ff00ff" stroke-width="0.8"/><rect x="172.69" y="127.73" width="4.3" height="5" fill="none" stroke="#ff00ff" stroke-width="0.8"/><rect x="176.97" y="124.86" width="4.3" height="5" fill="none" stroke="#ff00ff" stroke-width="0.8"/><rect x="181.24" y="122.08" width="4.3" height="5" fill="none" stroke="#ff00ff" stroke-width="0.8"/><rect x="185.52" y="119.40" width="4.3" height="5" fill="none" stroke="#ff00ff" stroke-width="0.8"/><rect x="189.80" y="116.81" width="4.3" height="5" fill="none" stroke="#ff00ff" stroke-width="0.8"/><rect x="194.08" y="114.34" width="4.3" height="5" fill="none" stroke="#ff00ff" stroke-width="0.8"/><rect x="198.36" y="112.02" width="4.3" height="5" fill="none" stroke="#ff00ff" stroke-width="0.8"/><rect x="202.64" y="109.88" width="4.3" height="5" fill="none" stroke="#ff00ff" stroke-width="0.8"/><rect x="206.91" y="107.99" width="4.3" height="5" fill="none" stroke="#ff00ff" stroke-width="0.8"/><rect x="211.19" y="106.31" width="4.3" height="5" fill="none" stroke="#ff00ff" stroke-width="0.8"/><rect x="215.47" y="104.85" width="4.3" height="5" fill="none" stroke="#ff00ff" stroke-width="0.8"/><rect x="219.75" y="103.53" width="4.3" height="5" fill="none" stroke="#ff00ff" stroke-width="0.8"/><rect x="224.03" y="102.34" width="4.3" height="5" fill="none" stroke="#ff00ff" stroke-width="0.8"/><rect x="228.31" y="101.25" width="4.3" height="5" fill="none" stroke="#ff00ff" stroke-width="0.8"/><rect x="232.58" y="100.30" width="4.3" height="5" fill="none" stroke="#ff00ff" stroke-width="0.8"/><rect x="236.86" y="99.37" width="4.3" height="5" fill="none" stroke="#ff00ff" stroke-width="0.8"/><rect x="241.14" y="98.33" width="4.3" height="5" fill="none" stroke="#ff00ff" stroke-width="0.8"/><rect x="245.42" y="97.29" width="4.3" height="5" fill="none" stroke="#ff00ff" stroke-width="0.8"/><rect x="249.70" y="96.31" width="4.3" height="5" fill="none" stroke="#ff00ff" stroke-width="0.8"/><rect x="253.98" y="95.35" width="4.3" height="5" fill="none" stroke="#ff00ff" stroke-width="0.8"/><rect x="258.25" y="94.45" width="4.3" height="5" fill="none" stroke="#ff00ff" stroke-width="0.8"/><rect x="262.53" y="93.62" width="4.3" height="5" fill="none" stroke="#ff00ff" stroke-width="0.8"/><rect x="266.81" y="92.87" width="4.3" height="5" fill="none" stroke="#ff00ff" stroke-width="0.8"/><rect x="271.09" y="92.18" width="4.3" height="5" fill="none" stroke="#ff00ff" stroke-width="0.8"/><rect x="275.37" y="91.53" width="4.3" height="5" fill="none" stroke="#ff00ff" stroke-width="0.8"/><rect x="279.65" y="90.89" width="4.3" height="5" fill="none" stroke="#ff00ff" stroke-width="0.8"/><rect x="283.92" y="90.25" width="4.3" height="5" fill="none" stroke="#ff00ff" stroke-width="0.8"/><rect x="288.20" y="89.59" width="4.3" height="5" fill="none" stroke="#ff00ff" stroke-width="0.8"/><rect x="292.48" y="88.93" width="4.3" height="5" fill="none" stroke="#ff00ff" stroke-width="0.8"/><rect x="296.76" y="88.28" width="4.3" height="5" fill="none" stroke="#ff00ff" stroke-width="0.8"/><rect x="301.04" y="87.66" width="4.3" height="5" fill="none" stroke="#ff00ff" stroke-width="0.8"/><rect x="305.32" y="87.07" width="4.3" height="5" fill="none" stroke="#ff00ff" stroke-width="0.8"/><rect x="309.59" y="86.53" width="4.3" height="5" fill="none" stroke="#ff00ff" stroke-width="0.8"/><rect x="313.87" y="86.01" width="4.3" height="5" fill="none" stroke="#ff00ff" stroke-width="0.8"/><rect x="318.15" y="85.52" width="4.3" height="5" fill="none" stroke="#ff00ff" stroke-width="0.8"/><rect x="322.43" y="85.04" width="4.3" height="5" fill="none" stroke="#ff00ff" stroke-width="0.8"/><rect x="326.71" y="84.59" width="4.3" height="5" fill="none" stroke="#ff00ff" stroke-width="0.8"/><rect x="330.99" y="84.17" width="4.3" height="5" fill="none" stroke="#ff00ff" stroke-width="0.8"/><rect x="335.26" y="83.76" width="4.3" height="5" fill="none" stroke="#ff00ff" stroke-width="0.8"/><rect x="339.54" y="83.37" width="4.3" height="5" fill="none" stroke="#ff00ff" stroke-width="0.8"/><rect x="343.82" y="82.99" width="4.3" height="5" fill="none" stroke="#ff00ff" stroke-width="0.8"/><rect x="348.10" y="82.61" width="4.3" height="5" fill="none" stroke="#ff00ff" stroke-width="0.8"/><rect x="352.38" y="82.22" width="4.3" height="5" fill="none" stroke="#ff00ff" stroke-width="0.8"/><rect x="356.66" y="81.83" width="4.3" height="5" fill="none" stroke="#ff00ff" stroke-width="0.8"/><rect x="360.93" y="81.43" width="4.3" height="5" fill="none" stroke="#ff00ff" stroke-width="0.8"/><rect x="365.21" y="81.04" width="4.3" height="5" fill="none" stroke="#ff00ff" stroke-width="0.8"/><rect x="369.49" y="80.65" width="4.3" height="5" fill="none" stroke="#ff00ff" stroke-width="0.8"/><rect x="373.77" y="80.27" width="4.3" height="5" fill="none" stroke="#ff00ff" stroke-width="0.8"/><rect x="378.05" y="79.91" width="4.3" height="5" fill="none" stroke="#ff00ff" stroke-width="0.8"/><rect x="382.33" y="79.56" width="4.3" height="5" fill="none" stroke="#ff00ff" stroke-width="0.8"/><rect x="386.60" y="79.24" width="4.3" height="5" fill="none" stroke="#ff00ff" stroke-width="0.8"/><rect x="390.88" y="78.94" width="4.3" height="5" fill="none" stroke="#ff00ff" stroke-width="0.8"/><rect x="395.16" y="78.66" width="4.3" height="5" fill="none" stroke="#ff00ff" stroke-width="0.8"/><rect x="399.44" y="78.39" width="4.3" height="5" fill="none" stroke="#ff00ff" stroke-width="0.8"/><rect x="403.72" y="78.13" width="4.3" height="5" fill="none" stroke="#ff00ff" stroke-width="0.8"/><rect x="408.00" y="77.89" width="4.3" height="5" fill="none" stroke="#ff00ff" stroke-width="0.8"/><rect x="412.27" y="77.68" width="4.3" height="5" fill="none" stroke="#ff00ff" stroke-width="0.8"/><rect x="416.55" y="77.50" width="4.3" height="5" fill="none" stroke="#ff00ff" stroke-width="0.8"/><rect x="420.83" y="77.35" width="4.3" height="5" fill="none" stroke="#ff00ff" stroke-width="0.8"/><rect x="425.11" y="77.20" width="4.3" height="5" fill="none" stroke="#ff00ff" stroke-width="0.8"/><rect x="429.39" y="77.06" width="4.3" height="5" fill="none" stroke="#ff00ff" stroke-width="0.8"/><rect x="433.67" y="76.92" width="4.3" height="5" fill="none" stroke="#ff00ff" stroke-width="0.8"/><rect x="437.94" y="76.78" width="4.3" height="5" fill="none" stroke="#ff00ff" stroke-width="0.8"/><rect x="442.22" y="76.66" width="4.3" height="5" fill="none" stroke="#ff00ff" stroke-width="0.8"/><rect x="446.50" y="76.54" width="4.3" height="5" fill="none" stroke="#ff00ff" stroke-width="0.8"/><rect x="450.78" y="76.43" width="4.3" height="5" fill="none" stroke="#ff00ff" stroke-width="0.8"/><rect x="455.06" y="76.33" width="4.3" height="5" fill="none" stroke="#ff00ff" stroke-width="0.8"/><rect x="459.34" y="76.25" width="4.3" height="5" fill="none" stroke="#ff00ff" stroke-width="0.8"/><rect x="463.61" y="76.18" width="4.3" height="5" fill="none" stroke="#ff00ff" stroke-width="0.8"/><rect x="467.89" y="76.12" width="4.3" height="5" fill="none" stroke="#ff00ff" stroke-width="0.8"/><rect x="472.17" y="76.08" width="4.3" height="5" fill="none" stroke="#ff00ff" stroke-width="0.8"/><rect x="476.45" y="76.07" width="4.3" height="5" fill="none" stroke="#ff00ff" stroke-width="0.8"/></g>
<path d="M243 278.5H278" stroke="#ff00ff" stroke-width="0.9" fill="none" stroke-dasharray="1,0.9"/>
<rect x="258.35" y="276.00" width="4.3" height="5" fill="none" stroke="#ff00ff" stroke-width="0.8"/>
<polyline clip-path="url(#cl)" points="63.60,-4.83 67.88,169.70 72.16,246.36 76.44,278.39 80.71,289.79 84.99,289.79 89.27,283.84 93.55,276.40 97.83,265.84 102.11,254.59 106.38,242.74 110.66,230.19 114.94,217.99 119.22,206.99 123.50,197.27 127.78,188.54 132.05,180.61 136.33,174.16 140.61,168.91 144.89,164.44 149.17,160.78 153.45,158.00 157.72,155.62 162.00,152.84 166.28,150.36 170.56,148.08 174.84,146.59 179.12,145.60 183.39,145.00 187.67,144.71 191.95,144.84 196.23,145.11 200.51,145.48 204.79,146.00 209.06,146.70 213.34,147.59 217.62,148.65 221.90,149.87 226.18,151.15 230.46,152.54 234.73,154.13 239.01,155.82 243.29,157.53 247.57,159.29 251.85,161.06 256.13,162.86 260.40,164.68 264.68,166.53 268.96,168.40 273.24,170.30 277.52,172.23 281.80,174.18 286.07,176.15 290.35,178.15 294.63,180.18 298.91,182.24 303.19,184.30 307.47,186.36 311.74,188.41 316.02,190.47 320.30,192.53 324.58,194.60 328.86,196.67 333.14,198.75 337.41,200.83 341.69,202.91 345.97,205.00 350.25,207.09 354.53,209.18 358.81,211.28 363.08,213.37 367.36,215.47 371.64,217.57 375.92,219.66 380.20,221.76 384.48,223.86 388.75,225.97 393.03,228.09 397.31,230.20 401.59,232.31 405.87,234.42 410.15,236.52 414.42,238.62 418.70,240.70 422.98,242.78 427.26,244.85 431.54,246.92 435.82,248.98 440.09,251.04 444.37,253.10 448.65,255.15 452.93,257.19 457.21,259.23 461.49,261.27 465.76,263.30 470.04,265.33 474.32,267.35 478.60,269.36" fill="none" stroke="#00ff00" stroke-width="0.9" stroke-dasharray="2.8,1.5"/>
<g clip-path="url(#c)"><path d="M65.38 167.20l5 5M65.38 172.20l5 -5" stroke="#00ff00" stroke-width="1.05" fill="none"/><path d="M69.66 243.86l5 5M69.66 248.86l5 -5" stroke="#00ff00" stroke-width="1.05" fill="none"/><path d="M73.94 275.89l5 5M73.94 280.89l5 -5" stroke="#00ff00" stroke-width="1.05" fill="none"/><path d="M78.21 287.29l5 5M78.21 292.29l5 -5" stroke="#00ff00" stroke-width="1.05" fill="none"/><path d="M82.49 287.29l5 5M82.49 292.29l5 -5" stroke="#00ff00" stroke-width="1.05" fill="none"/><path d="M86.77 281.34l5 5M86.77 286.34l5 -5" stroke="#00ff00" stroke-width="1.05" fill="none"/><path d="M91.05 273.90l5 5M91.05 278.90l5 -5" stroke="#00ff00" stroke-width="1.05" fill="none"/><path d="M95.33 263.34l5 5M95.33 268.34l5 -5" stroke="#00ff00" stroke-width="1.05" fill="none"/><path d="M99.61 252.09l5 5M99.61 257.09l5 -5" stroke="#00ff00" stroke-width="1.05" fill="none"/><path d="M103.88 240.24l5 5M103.88 245.24l5 -5" stroke="#00ff00" stroke-width="1.05" fill="none"/><path d="M108.16 227.69l5 5M108.16 232.69l5 -5" stroke="#00ff00" stroke-width="1.05" fill="none"/><path d="M112.44 215.49l5 5M112.44 220.49l5 -5" stroke="#00ff00" stroke-width="1.05" fill="none"/><path d="M116.72 204.49l5 5M116.72 209.49l5 -5" stroke="#00ff00" stroke-width="1.05" fill="none"/><path d="M121.00 194.77l5 5M121.00 199.77l5 -5" stroke="#00ff00" stroke-width="1.05" fill="none"/><path d="M125.28 186.04l5 5M125.28 191.04l5 -5" stroke="#00ff00" stroke-width="1.05" fill="none"/><path d="M129.55 178.11l5 5M129.55 183.11l5 -5" stroke="#00ff00" stroke-width="1.05" fill="none"/><path d="M133.83 171.66l5 5M133.83 176.66l5 -5" stroke="#00ff00" stroke-width="1.05" fill="none"/><path d="M138.11 166.41l5 5M138.11 171.41l5 -5" stroke="#00ff00" stroke-width="1.05" fill="none"/><path d="M142.39 161.94l5 5M142.39 166.94l5 -5" stroke="#00ff00" stroke-width="1.05" fill="none"/><path d="M146.67 158.28l5 5M146.67 163.28l5 -5" stroke="#00ff00" stroke-width="1.05" fill="none"/><path d="M150.95 155.50l5 5M150.95 160.50l5 -5" stroke="#00ff00" stroke-width="1.05" fill="none"/><path d="M155.22 153.12l5 5M155.22 158.12l5 -5" stroke="#00ff00" stroke-width="1.05" fill="none"/><path d="M159.50 150.34l5 5M159.50 155.34l5 -5" stroke="#00ff00" stroke-width="1.05" fill="none"/><path d="M163.78 147.86l5 5M163.78 152.86l5 -5" stroke="#00ff00" stroke-width="1.05" fill="none"/><path d="M168.06 145.58l5 5M168.06 150.58l5 -5" stroke="#00ff00" stroke-width="1.05" fill="none"/><path d="M172.34 144.09l5 5M172.34 149.09l5 -5" stroke="#00ff00" stroke-width="1.05" fill="none"/><path d="M176.62 143.10l5 5M176.62 148.10l5 -5" stroke="#00ff00" stroke-width="1.05" fill="none"/><path d="M180.89 142.50l5 5M180.89 147.50l5 -5" stroke="#00ff00" stroke-width="1.05" fill="none"/><path d="M185.17 142.21l5 5M185.17 147.21l5 -5" stroke="#00ff00" stroke-width="1.05" fill="none"/><path d="M189.45 142.34l5 5M189.45 147.34l5 -5" stroke="#00ff00" stroke-width="1.05" fill="none"/><path d="M193.73 142.61l5 5M193.73 147.61l5 -5" stroke="#00ff00" stroke-width="1.05" fill="none"/><path d="M198.01 142.98l5 5M198.01 147.98l5 -5" stroke="#00ff00" stroke-width="1.05" fill="none"/><path d="M202.29 143.50l5 5M202.29 148.50l5 -5" stroke="#00ff00" stroke-width="1.05" fill="none"/><path d="M206.56 144.20l5 5M206.56 149.20l5 -5" stroke="#00ff00" stroke-width="1.05" fill="none"/><path d="M210.84 145.09l5 5M210.84 150.09l5 -5" stroke="#00ff00" stroke-width="1.05" fill="none"/><path d="M215.12 146.15l5 5M215.12 151.15l5 -5" stroke="#00ff00" stroke-width="1.05" fill="none"/><path d="M219.40 147.37l5 5M219.40 152.37l5 -5" stroke="#00ff00" stroke-width="1.05" fill="none"/><path d="M223.68 148.65l5 5M223.68 153.65l5 -5" stroke="#00ff00" stroke-width="1.05" fill="none"/><path d="M227.96 150.04l5 5M227.96 155.04l5 -5" stroke="#00ff00" stroke-width="1.05" fill="none"/><path d="M232.23 151.63l5 5M232.23 156.63l5 -5" stroke="#00ff00" stroke-width="1.05" fill="none"/><path d="M236.51 153.32l5 5M236.51 158.32l5 -5" stroke="#00ff00" stroke-width="1.05" fill="none"/><path d="M240.79 155.03l5 5M240.79 160.03l5 -5" stroke="#00ff00" stroke-width="1.05" fill="none"/><path d="M245.07 156.79l5 5M245.07 161.79l5 -5" stroke="#00ff00" stroke-width="1.05" fill="none"/><path d="M249.35 158.56l5 5M249.35 163.56l5 -5" stroke="#00ff00" stroke-width="1.05" fill="none"/><path d="M253.63 160.36l5 5M253.63 165.36l5 -5" stroke="#00ff00" stroke-width="1.05" fill="none"/><path d="M257.90 162.18l5 5M257.90 167.18l5 -5" stroke="#00ff00" stroke-width="1.05" fill="none"/><path d="M262.18 164.03l5 5M262.18 169.03l5 -5" stroke="#00ff00" stroke-width="1.05" fill="none"/><path d="M266.46 165.90l5 5M266.46 170.90l5 -5" stroke="#00ff00" stroke-width="1.05" fill="none"/><path d="M270.74 167.80l5 5M270.74 172.80l5 -5" stroke="#00ff00" stroke-width="1.05" fill="none"/><path d="M275.02 169.73l5 5M275.02 174.73l5 -5" stroke="#00ff00" stroke-width="1.05" fill="none"/><path d="M279.30 171.68l5 5M279.30 176.68l5 -5" stroke="#00ff00" stroke-width="1.05" fill="none"/><path d="M283.57 173.65l5 5M283.57 178.65l5 -5" stroke="#00ff00" stroke-width="1.05" fill="none"/><path d="M287.85 175.65l5 5M287.85 180.65l5 -5" stroke="#00ff00" stroke-width="1.05" fill="none"/><path d="M292.13 177.68l5 5M292.13 182.68l5 -5" stroke="#00ff00" stroke-width="1.05" fill="none"/><path d="M296.41 179.74l5 5M296.41 184.74l5 -5" stroke="#00ff00" stroke-width="1.05" fill="none"/><path d="M300.69 181.80l5 5M300.69 186.80l5 -5" stroke="#00ff00" stroke-width="1.05" fill="none"/><path d="M304.97 183.86l5 5M304.97 188.86l5 -5" stroke="#00ff00" stroke-width="1.05" fill="none"/><path d="M309.24 185.91l5 5M309.24 190.91l5 -5" stroke="#00ff00" stroke-width="1.05" fill="none"/><path d="M313.52 187.97l5 5M313.52 192.97l5 -5" stroke="#00ff00" stroke-width="1.05" fill="none"/><path d="M317.80 190.03l5 5M317.80 195.03l5 -5" stroke="#00ff00" stroke-width="1.05" fill="none"/><path d="M322.08 192.10l5 5M322.08 197.10l5 -5" stroke="#00ff00" stroke-width="1.05" fill="none"/><path d="M326.36 194.17l5 5M326.36 199.17l5 -5" stroke="#00ff00" stroke-width="1.05" fill="none"/><path d="M330.64 196.25l5 5M330.64 201.25l5 -5" stroke="#00ff00" stroke-width="1.05" fill="none"/><path d="M334.91 198.33l5 5M334.91 203.33l5 -5" stroke="#00ff00" stroke-width="1.05" fill="none"/><path d="M339.19 200.41l5 5M339.19 205.41l5 -5" stroke="#00ff00" stroke-width="1.05" fill="none"/><path d="M343.47 202.50l5 5M343.47 207.50l5 -5" stroke="#00ff00" stroke-width="1.05" fill="none"/><path d="M347.75 204.59l5 5M347.75 209.59l5 -5" stroke="#00ff00" stroke-width="1.05" fill="none"/><path d="M352.03 206.68l5 5M352.03 211.68l5 -5" stroke="#00ff00" stroke-width="1.05" fill="none"/><path d="M356.31 208.78l5 5M356.31 213.78l5 -5" stroke="#00ff00" stroke-width="1.05" fill="none"/><path d="M360.58 210.87l5 5M360.58 215.87l5 -5" stroke="#00ff00" stroke-width="1.05" fill="none"/><path d="M364.86 212.97l5 5M364.86 217.97l5 -5" stroke="#00ff00" stroke-width="1.05" fill="none"/><path d="M369.14 215.07l5 5M369.14 220.07l5 -5" stroke="#00ff00" stroke-width="1.05" fill="none"/><path d="M373.42 217.16l5 5M373.42 222.16l5 -5" stroke="#00ff00" stroke-width="1.05" fill="none"/><path d="M377.70 219.26l5 5M377.70 224.26l5 -5" stroke="#00ff00" stroke-width="1.05" fill="none"/><path d="M381.98 221.36l5 5M381.98 226.36l5 -5" stroke="#00ff00" stroke-width="1.05" fill="none"/><path d="M386.25 223.47l5 5M386.25 228.47l5 -5" stroke="#00ff00" stroke-width="1.05" fill="none"/><path d="M390.53 225.59l5 5M390.53 230.59l5 -5" stroke="#00ff00" stroke-width="1.05" fill="none"/><path d="M394.81 227.70l5 5M394.81 232.70l5 -5" stroke="#00ff00" stroke-width="1.05" fill="none"/><path d="M399.09 229.81l5 5M399.09 234.81l5 -5" stroke="#00ff00" stroke-width="1.05" fill="none"/><path d="M403.37 231.92l5 5M403.37 236.92l5 -5" stroke="#00ff00" stroke-width="1.05" fill="none"/><path d="M407.65 234.02l5 5M407.65 239.02l5 -5" stroke="#00ff00" stroke-width="1.05" fill="none"/><path d="M411.92 236.12l5 5M411.92 241.12l5 -5" stroke="#00ff00" stroke-width="1.05" fill="none"/><path d="M416.20 238.20l5 5M416.20 243.20l5 -5" stroke="#00ff00" stroke-width="1.05" fill="none"/><path d="M420.48 240.28l5 5M420.48 245.28l5 -5" stroke="#00ff00" stroke-width="1.05" fill="none"/><path d="M424.76 242.35l5 5M424.76 247.35l5 -5" stroke="#00ff00" stroke-width="1.05" fill="none"/><path d="M429.04 244.42l5 5M429.04 249.42l5 -5" stroke="#00ff00" stroke-width="1.05" fill="none"/><path d="M433.32 246.48l5 5M433.32 251.48l5 -5" stroke="#00ff00" stroke-width="1.05" fill="none"/><path d="M437.59 248.54l5 5M437.59 253.54l5 -5" stroke="#00ff00" stroke-width="1.05" fill="none"/><path d="M441.87 250.60l5 5M441.87 255.60l5 -5" stroke="#00ff00" stroke-width="1.05" fill="none"/><path d="M446.15 252.65l5 5M446.15 257.65l5 -5" stroke="#00ff00" stroke-width="1.05" fill="none"/><path d="M450.43 254.69l5 5M450.43 259.69l5 -5" stroke="#00ff00" stroke-width="1.05" fill="none"/><path d="M454.71 256.73l5 5M454.71 261.73l5 -5" stroke="#00ff00" stroke-width="1.05" fill="none"/><path d="M458.99 258.77l5 5M458.99 263.77l5 -5" stroke="#00ff00" stroke-width="1.05" fill="none"/><path d="M463.26 260.80l5 5M463.26 265.80l5 -5" stroke="#00ff00" stroke-width="1.05" fill="none"/><path d="M467.54 262.83l5 5M467.54 267.83l5 -5" stroke="#00ff00" stroke-width="1.05" fill="none"/><path d="M471.82 264.85l5 5M471.82 269.85l5 -5" stroke="#00ff00" stroke-width="1.05" fill="none"/><path d="M476.10 266.86l5 5M476.10 271.86l5 -5" stroke="#00ff00" stroke-width="1.05" fill="none"/></g>
<path d="M243 291.0H278" stroke="#00ff00" stroke-width="0.9" fill="none" stroke-dasharray="2.8,1.5"/>
<path d="M258.00 288.50l5 5M258.00 293.50l5 -5" stroke="#00ff00" stroke-width="1.05" fill="none"/>
<rect x="63.6" y="15.0" width="415.0" height="297.5" fill="none" stroke="#000" stroke-width="1"/>
<path d="M63.6 302.58h4M478.6 302.58h-4M63.6 282.75h4M478.6 282.75h-4M63.6 262.92h4M478.6 262.92h-4M63.6 243.08h4M478.6 243.08h-4M63.6 223.25h4M478.6 223.25h-4M63.6 203.42h4M478.6 203.42h-4M63.6 183.58h4M478.6 183.58h-4M63.6 163.75h4M478.6 163.75h-4M63.6 143.92h4M478.6 143.92h-4M63.6 124.08h4M478.6 124.08h-4M63.6 104.25h4M478.6 104.25h-4M63.6 84.42h4M478.6 84.42h-4M63.6 64.58h4M478.6 64.58h-4M63.6 44.75h4M478.6 44.75h-4M63.6 24.92h4M478.6 24.92h-4M93.55 312.5v-4M93.55 15.0v4M136.33 312.5v-4M136.33 15.0v4M179.12 312.5v-4M179.12 15.0v4M221.90 312.5v-4M221.90 15.0v4M264.68 312.5v-4M264.68 15.0v4M307.47 312.5v-4M307.47 15.0v4M350.25 312.5v-4M350.25 15.0v4M393.03 312.5v-4M393.03 15.0v4M435.82 312.5v-4M435.82 15.0v4M478.60 312.5v-4M478.60 15.0v4" stroke="#000" stroke-width="1" fill="none"/>
<g id="tx"><text transform="translate(236.3,207.2) scale(0.93,1)" text-anchor="end" font-size="13.4">Exact</text><text transform="translate(236.3,219.7) scale(0.93,1)" text-anchor="end" font-size="13.4">HF</text><text transform="translate(236.3,232.2) scale(0.93,1)" text-anchor="end" font-size="13.4">B3LYP</text><text transform="translate(236.3,244.7) scale(0.93,1)" text-anchor="end" font-size="13.4">LDA</text><text transform="translate(236.3,257.2) scale(0.93,1)" text-anchor="end" font-size="13.4">PBE</text><text transform="translate(236.3,269.7) scale(0.93,1)" text-anchor="end" font-size="13.4">M06-2X</text><text transform="translate(236.3,282.2) scale(0.93,1)" text-anchor="end" font-size="13.4">ωB97X-D</text><text transform="translate(236.3,294.7) scale(0.93,1)" text-anchor="end" font-size="13.4">B2PLYP</text><text transform="translate(56.3,306.78) scale(0.93,1)" text-anchor="end" font-size="13.4">-120</text><text transform="translate(56.3,286.95) scale(0.93,1)" text-anchor="end" font-size="13.4">-100</text><text transform="translate(56.3,267.12) scale(0.93,1)" text-anchor="end" font-size="13.4">-80</text><text transform="translate(56.3,247.28) scale(0.93,1)" text-anchor="end" font-size="13.4">-60</text><text transform="translate(56.3,227.45) scale(0.93,1)" text-anchor="end" font-size="13.4">-40</text><text transform="translate(56.3,207.62) scale(0.93,1)" text-anchor="end" font-size="13.4">-20</text><text transform="translate(56.3,187.78) scale(0.93,1)" text-anchor="end" font-size="13.4">0</text><text transform="translate(56.3,167.95) scale(0.93,1)" text-anchor="end" font-size="13.4">20</text><text transform="translate(56.3,148.12) scale(0.93,1)" text-anchor="end" font-size="13.4">40</text><text transform="translate(56.3,128.28) scale(0.93,1)" text-anchor="end" font-size="13.4">60</text><text transform="translate(56.3,108.45) scale(0.93,1)" text-anchor="end" font-size="13.4">80</text><text transform="translate(56.3,88.62) scale(0.93,1)" text-anchor="end" font-size="13.4">100</text><text transform="translate(56.3,68.78) scale(0.93,1)" text-anchor="end" font-size="13.4">120</text><text transform="translate(56.3,48.95) scale(0.93,1)" text-anchor="end" font-size="13.4">140</text><text transform="translate(56.3,29.12) scale(0.93,1)" text-anchor="end" font-size="13.4">160</text><text transform="translate(95.35,329.1) scale(0.93,1)" text-anchor="middle" font-size="13.4">1</text><text transform="translate(138.13,329.1) scale(0.93,1)" text-anchor="middle" font-size="13.4">2</text><text transform="translate(180.92,329.1) scale(0.93,1)" text-anchor="middle" font-size="13.4">3</text><text transform="translate(223.7,329.1) scale(0.93,1)" text-anchor="middle" font-size="13.4">4</text><text transform="translate(266.48,329.1) scale(0.93,1)" text-anchor="middle" font-size="13.4">5</text><text transform="translate(309.27,329.1) scale(0.93,1)" text-anchor="middle" font-size="13.4">6</text><text transform="translate(352.05,329.1) scale(0.93,1)" text-anchor="middle" font-size="13.4">7</text><text transform="translate(394.83,329.1) scale(0.93,1)" text-anchor="middle" font-size="13.4">8</text><text transform="translate(437.62,329.1) scale(0.93,1)" text-anchor="middle" font-size="13.4">9</text><text transform="translate(480.4,329.1) scale(0.93,1)" text-anchor="middle" font-size="13.4">10</text><text transform="translate(271.3,347.2) scale(0.91,1)" text-anchor="middle" font-size="12">R (angstrom)</text><text transform="translate(16.5,163.7) rotate(-90) scale(1.0,1)" text-anchor="middle" font-size="14.2">Relative Energy (kcal/mol)</text></g>
</svg></body></html>
